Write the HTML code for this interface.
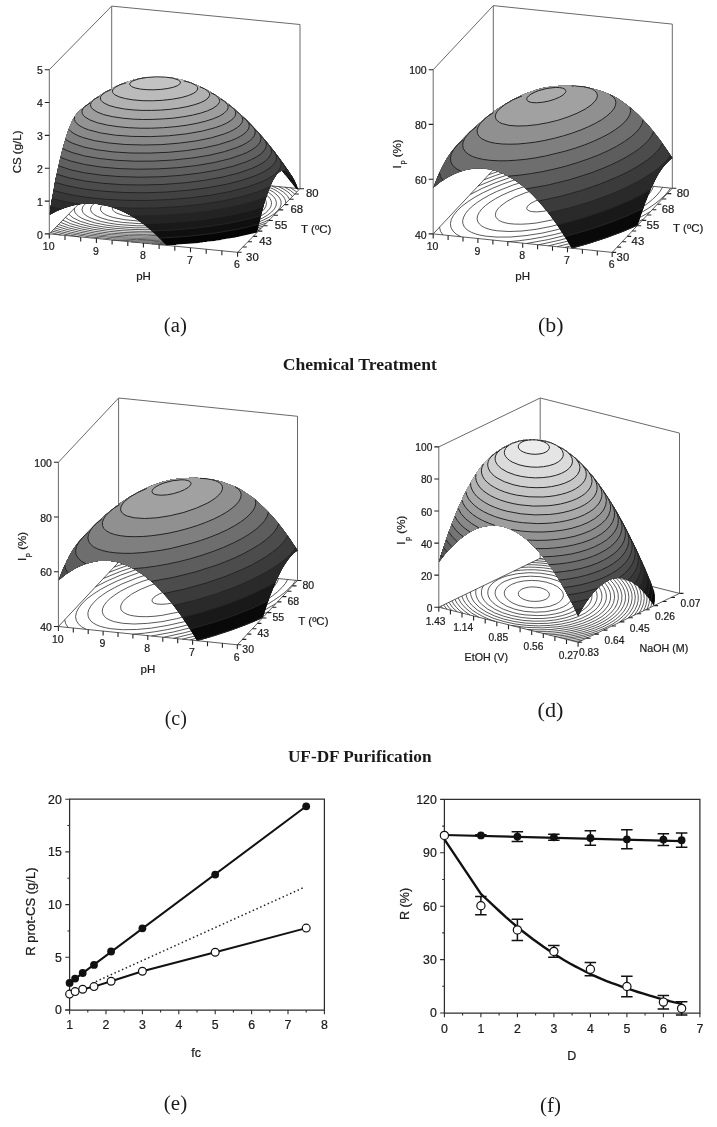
<!DOCTYPE html>
<html><head><meta charset="utf-8"><style>
html,body{margin:0;padding:0;background:#fff;}
body{width:717px;height:1127px;position:relative;overflow:hidden;}
text{stroke:#1a1a1a;stroke-width:0.22px;paint-order:stroke;}
text.cap{stroke:none;}
</style></head><body>
<svg width="717" height="1127" viewBox="0 0 717 1127" style="position:absolute;left:0;top:0" font-family="&quot;Liberation Sans&quot;, Arial, sans-serif" fill="#1a1a1a">
<path d="M49.3 69.7L111.7 6.1L300 24.5L300 188.7" fill="none" stroke="#6a6a6a" stroke-width="1"/>
<line x1="111.7" y1="6.1" x2="111.7" y2="170.3" stroke="#6a6a6a" stroke-width="1"/>
<line x1="49.3" y1="233.9" x2="111.7" y2="170.3" stroke="#333" stroke-width="0.8"/>
<line x1="111.7" y1="170.3" x2="300" y2="188.7" stroke="#333" stroke-width="0.8"/>
<path d="M159.5 244.7L186.9 242.9L213.3 239.9L237.7 235.7L248.8 233.2L259 230.5M296.8 192L290.6 187.8M122.9 171.4L109.2 172.8M151.7 243.9L166.9 243.3L182.3 242.2L197.2 240.8L211.4 239L225.2 236.8L238.1 234.3L250.1 231.5L261.1 228.4M294.7 194.1L290.5 190.6L284.8 187.2M128.7 172L108 174M49.4 233.8L49.9 234M142.5 243L159.6 242.6L176.8 241.6L193.4 240.1L209.4 238.1L224.6 235.7L238.8 232.9L251.8 229.6L263.4 226M292.4 196.5L290.1 193.9L287.1 191.4L283.2 188.9L278.6 186.6M134.9 172.6L106.8 175.3M131 241.9L150.2 241.8L169.5 241L188.5 239.5L206.9 237.3L224 234.6L240.1 231.2L254.1 227.4L266.2 223.1M50.7 232.5L61.4 235.1M289.5 199.4L287.4 195.8L283.7 192.3L278.5 189L271.8 185.9M141.7 173.2L123.3 174.6L105.5 176.7M112.9 240.1L135.2 240.8L158 240.4L180.7 239L202.7 236.7L223 233.4L241.7 229.3L257.4 224.6L264.1 222L270 219.3M52.1 231.1L64.8 234.2L79.5 236.9M285.8 203.2L285.5 200.8L284.6 198.4L282.9 196L280.5 193.7L277.4 191.4L273.7 189.2L264.2 185.2M149.3 174L126.2 175.5L104.1 178.1M53.5 229.6L61.4 231.8L70.1 233.7L90.1 236.9L112.6 238.9L136.7 239.6L161.7 239.1L186.1 237.3L209.5 234.4L230.7 230.4L240.2 228.1L249 225.6L256.9 222.8L263.7 219.9L269.6 216.9L274.1 213.9L277.6 210.7L280 207.5L281.1 204.3L281 201.1L279.6 198L277 195L273.3 192L268.4 189.3L262.4 186.7L255.4 184.3M158.1 174.8L143.9 175.4L129.8 176.4L115.9 177.8L102.6 179.6M55.1 228L62.5 230.2L71.2 232.3L80.5 234L90.8 235.5L113.2 237.6L137.2 238.4L162.2 237.9L186.7 236L209.6 233L230.6 228.9L239.8 226.6L248.4 223.9L255.8 221.1L262.3 218.2L267.6 215.1L271.6 212L274.4 208.9L276.1 205.7L276.4 202.5L275.5 199.3L273.3 196.3L269.9 193.3L265.3 190.5L259.4 187.9L252.5 185.5L244.7 183.3M168.9 175.9L151.4 176.3L134.1 177.3L117.4 178.9L101.1 181.1M56.8 226.3L67.1 229.5L79.5 232.2L93.6 234.4L109.3 236L125.9 236.9L142.9 237.1L160.6 236.7L177.9 235.6L194.8 233.8L210.9 231.4L225.4 228.5L238.5 225.2L249.7 221.4L258.8 217.3L265.6 212.9L268 210.7L269.8 208.4L270.9 206.4L271.4 204.5L271.5 202.6L271 200.6L270.1 198.7L268.6 196.8L264.3 193.2L258.1 189.9L250.1 186.9L240.4 184.1L229.3 181.8M184.3 177.4L162.8 177.2L140.9 178.1L119.4 180L99.4 182.8M58.6 224.5L68.6 227.9L81.3 230.8L95.6 233.1L111.5 234.7L128.6 235.6L146.3 235.8L164.5 235.2L182 233.8L199.2 231.8L214.9 229.1L229.3 225.9L241.7 222.1L251.9 218L259.4 213.6L262.2 211.3L264.3 209L265.7 206.6L266.3 204.4L266.3 202.5L265.8 200.6L264.8 198.8L263.3 197L258.8 193.5L252.5 190.2L244.5 187.3L234.7 184.7L223.7 182.5L211.3 180.8L197.8 179.5L183.7 178.7L169.1 178.5L154.4 178.7L139.5 179.5L124.9 180.8L110.7 182.5L97.6 184.7M60.6 222.4L69.6 225.9L81.1 228.9L94.6 231.3L109.7 233.1L125.9 234.1L143.2 234.4L160.9 234L178.2 232.8L194.9 230.9L210.5 228.4L224.8 225.2L236.9 221.6L246.9 217.6L254.3 213.3L257 211.1L259 208.9L260.3 206.7L260.9 204.4L260.9 202.6L260.3 200.7L259.3 198.9L257.7 197.1L253.2 193.8L246.8 190.6L238.8 187.8L229.1 185.4L218.1 183.3L205.9 181.7L192.5 180.6L178.7 180L164.3 179.9L149.8 180.3L135.3 181.2L121.3 182.6L107.9 184.5L95.6 186.7M62.8 220.1L70.7 223.7L81.1 226.8L93.4 229.3L107.7 231.2L123.4 232.5L139.8 232.9L156.9 232.7L173.8 231.7L190.1 230L205.4 227.6L219.3 224.7L231.4 221.2L241.4 217.3L248.8 213.1L251.5 211L253.4 208.8L254.7 206.6L255.2 204.5L255.1 202.7L254.6 200.9L253.5 199.2L251.9 197.4L247.3 194.1L241.1 191.2L233 188.5L223.3 186.2L212.4 184.3L200 182.8L186.9 181.8L173.2 181.4L159 181.4L145 182L131.2 183.1L117.7 184.6L105 186.6L93.4 189M65.4 217.4L68.4 219.4L71.8 221.1L80.7 224.3L91.9 227L105.3 229.2L120.1 230.6L135.9 231.3L152.1 231.3L168.8 230.5L184.8 229L199.9 226.8L213.7 224L225.6 220.8L235.4 217.1L242.8 213L245.4 210.9L247.4 208.8L248.6 206.7L249.2 204.6L249.1 202.8L248.5 201.1L247.4 199.4L245.7 197.7L240.9 194.5L234.4 191.6L226.3 189.1L216.6 186.9L205.6 185.2L193.4 183.9L180.4 183.2L166.9 182.9L153.2 183.2L139.4 183.9L126 185.2L113.3 187L101.5 189.1L90.7 191.7M68.8 214L70.7 216L73.2 217.9L80.3 221.3L89.9 224.3L101.9 226.7L115.6 228.4L130.5 229.4L146.1 229.7L162.2 229.2L178.1 228L193.1 226.1L207 223.5L219.1 220.4L228.9 216.8L236.4 212.9L239.1 210.8L241 208.8L242.2 206.7L242.7 204.6L242.6 202.9L241.9 201.2L240.7 199.5L239 197.9L234 194.8L227.4 192.1L219.1 189.7L209 187.7L197.7 186.2L185.3 185.1L172.4 184.6L159 184.6L145.3 185.2L132.2 186.3L119.3 187.9L107.4 189.9L96.7 192.3L87.3 195.1M74.6 208.1L74.4 210.2L74.9 212.2L76.3 214.2L78.5 216.2L81.4 218L85.1 219.7L94.7 222.8L106.4 225.2L120.3 226.9L135.6 227.8L151.7 227.8L168 227.1L183.6 225.5L198 223.2L210.7 220.2L221.1 216.8L229.1 213L231.9 210.9L234.1 208.8L235.3 206.7L235.8 204.6L235.5 202.9L234.7 201.2L233.3 199.5L231.4 197.9L225.7 194.9L218.2 192.2L208.8 190L197.8 188.3L185.5 187.1L172.3 186.4L158.9 186.4L145.3 187L131.7 188.2L119 189.9L107.3 192.1L97.1 194.7L88.4 197.7L81.5 201M118.2 224.5L136.2 225.8L155.6 225.8L175 224.4L192.9 221.9L200.9 220.2L208.1 218.2L214.5 216.1L219.6 213.8L223.6 211.4L226.3 209L227.8 206.4L228.1 203.9L227.4 202.2L226.2 200.6L224.4 199L221.9 197.4L215.3 194.6L206.6 192.2L196.1 190.3L184.2 189.1L171.4 188.4L158 188.4L144.7 189L131.4 190.3L119 192.1L108 194.4L98.5 197.2L91 200.3L85.5 203.7L83.8 205.4L82.6 207.1L82 209.9L83 212.6L85.4 215.1L89.5 217.5L94.9 219.7L101.6 221.6L109.4 223.2L118.2 224.5M122.6 222.4L138.6 223.6L155.8 223.6L172.9 222.4L188.5 220.1L201.9 216.9L207.5 215L212 213L215.5 210.9L218 208.7L219.4 206.4L219.5 204.2L219 202.8L217.9 201.3L213.9 198.5L208.1 196L200.5 193.9L191.4 192.3L180.8 191.2L169.4 190.6L157.6 190.6L145.7 191.1L133.9 192.3L123.1 193.9L113.3 195.9L105 198.4L98.4 201.1L93.7 204L92.1 205.6L91 207.1L90.5 209.5L91.4 212L93.7 214.3L97.2 216.3L101.9 218.2L107.8 219.9L114.7 221.3L122.6 222.4M124.5 219.7L138.1 221L152.7 221.2L167.7 220.3L181.8 218.5L193.9 215.7L198.9 214.1L202.8 212.4L206.1 210.5L208.3 208.6L209.5 206.7L209.7 204.8L209.3 203.6L208.4 202.3L205.2 199.9L200.3 197.8L193.9 196L186 194.6L177.3 193.7L167.8 193.1L157.9 193.1L147.4 193.6L137.6 194.5L128.5 195.8L120.1 197.5L112.9 199.6L107.3 201.9L103.2 204.4L100.9 206.9L100.4 208.9L100.9 210.8L102.5 212.7L105.1 214.5L108.8 216.1L113.3 217.5L124.5 219.7M133.2 217.2L143.8 218L155.1 218L166.2 217.3L176.9 215.8L186 213.6L192.7 211L195 209.6L196.7 208.2L197.5 206.7L197.6 205.2L196.5 203.3L194.1 201.5L190.2 199.8L185 198.4L178.9 197.3L172 196.6L156.6 196.2L141 197.3L133.8 198.4L127.4 199.8L121.8 201.4L117.5 203.2L114.5 205.1L112.8 207.2L112.4 208.8L113 210.3L114.4 211.8L116.7 213.1L123.8 215.6L133.2 217.2M140.5 212.9L146.8 213.5L153.9 213.6L160.9 213.3L167.4 212.4L173.1 211.1L177.3 209.5L179.8 207.8L180.3 206.9L180.4 206L179.8 204.9L178.3 203.8L173 202L165.4 200.9L156.4 200.6L147.1 201.2L139.1 202.6L133.1 204.6L131.1 205.8L130 207L129.7 207.9L129.9 208.7L131.7 210.4L135.4 211.9L140.5 212.9" fill="none" stroke="#222" stroke-width="0.75"/>
<path d="M151.6 76.9L164.4 76.9L164.6 77.1L167.4 77.1L167.6 77.4L169.4 77.4L169.6 77.6L171.4 77.6L171.6 77.9L175.6 78.4L184.9 80.6L195.4 84.4L204.4 88.6L214.6 94.4L221.4 98.9L229.1 104.6L238.6 112.6L246.6 120.1L254.9 128.6L264.6 139.6L272.4 149.1L280.4 159.6L289.6 172.6L294.1 179.6L296.9 185.4L298.6 190.1L295.9 188.4L287.1 176.9L281.6 170.6L279.4 171.9L276.6 174.6L272.9 180.4L268.1 191.4L264.9 201.1L262.6 209.9L262.1 210.9L257.1 232.4L246.1 235.1L241.4 235.9L237.6 236.9L236.4 236.9L235.4 237.4L231.4 237.9L228.6 238.6L226.9 238.6L225.6 239.1L221.4 239.6L221.1 239.9L216.1 240.4L214.6 240.9L206.9 241.6L206.6 241.9L202.9 242.1L202.6 242.4L200.6 242.4L198.4 242.9L191.4 243.4L191.1 243.6L176.4 244.6L176.1 244.9L172.4 244.9L172.1 245.1L167.9 245.1L167.6 245.4L166.9 245.1L166.4 245.4L156.6 235.4L151.4 230.6L144.1 224.6L137.9 220.1L129.9 215.1L122.1 211.1L114.1 207.9L108.4 206.1L100.1 204.4L96.4 204.1L96.1 203.9L93.4 203.9L93.1 203.6L85.4 203.6L85.1 203.9L82.1 203.9L81.9 204.1L78.4 204.4L78.1 204.6L74.1 205.1L64.4 207.9L56.9 210.9L49.4 214.9L50.6 206.1L51.1 204.6L51.6 200.4L54.6 185.4L54.6 184.1L56.1 176.6L56.6 175.4L57.1 171.9L57.6 170.6L57.9 168.4L58.9 164.9L58.9 163.9L62.4 149.6L62.9 148.6L63.1 146.9L65.4 139.9L65.4 139.1L66.4 136.6L66.4 135.9L68.6 129.4L72.4 120.6L76.1 114.4L81.1 109.4L94.6 98.9L105.1 92.1L116.6 86.1L125.1 82.6L132.9 80.1L141.6 78.1L146.4 77.6L146.6 77.4L148.6 77.4L148.9 77.1L151.4 77.1L151.6 76.9Z" fill="#050505" fill-rule="evenodd"/>
<path d="M151.6 76.9L164.4 76.9L164.6 77.1L167.4 77.1L167.6 77.4L174.4 78.1L183.1 80.1L190.9 82.6L198.9 85.9L207.4 90.1L214.6 94.4L221.4 98.9L230.4 105.6L238.6 112.6L249.1 122.6L257.6 131.6L264.6 139.6L275.1 152.6L283.1 163.4L292.6 177.1L294.1 179.6L296.9 185.6L290.6 181.4L287.1 176.9L281.6 170.6L279.4 171.9L276.6 174.6L272.9 180.4L268.1 191.4L263.6 205.4L258.9 224.1L242.4 228.3L242.1 228.2L235.6 229.7L220.6 232.4L210.4 233.9L183.1 236.9L182.9 236.7L172.1 237.6L159.9 238.2L159.4 238.1L151.4 230.6L144.1 224.6L134.9 218.1L129.9 215.1L118.1 209.4L111.9 207.1L103.1 204.9L98.6 204.4L98.4 204.1L96.4 204.1L96.1 203.9L93.4 203.9L93.1 203.6L85.4 203.6L85.1 203.9L82.1 203.9L81.9 204.1L80.1 204.1L79.9 204.4L75.4 204.9L69.1 206.4L60.4 209.4L56.9 210.9L49.4 214.9L50.6 206.1L51.1 204.6L51.6 200.4L54.6 185.4L54.6 184.1L56.1 176.6L56.6 175.4L57.1 171.9L57.6 170.6L57.9 168.4L58.9 164.9L58.9 163.9L62.4 149.6L62.9 148.6L63.1 146.9L65.4 139.9L65.4 139.1L66.4 136.6L66.4 135.9L68.6 129.4L72.4 120.6L76.1 114.4L81.1 109.4L94.6 98.9L105.1 92.1L116.6 86.1L125.1 82.6L132.9 80.1L141.6 78.1L146.4 77.6L146.6 77.4L148.6 77.4L148.9 77.1L151.4 77.1L151.6 76.9Z" fill="#0f0f0f" fill-rule="evenodd"/>
<path d="M151.6 76.9L164.4 76.9L164.6 77.1L167.4 77.1L167.6 77.4L169.4 77.4L169.6 77.6L171.4 77.6L171.6 77.9L175.6 78.4L184.9 80.6L195.4 84.4L207.4 90.1L214.6 94.4L223.1 100.1L230.4 105.6L241.6 115.4L249.1 122.6L259.9 134.1L268.4 144.1L280.4 159.6L289.6 172.6L292.6 177.1L294.7 181.1L290.1 177.4L284.9 174.4L281.6 170.6L280.1 171.4L276.6 174.6L275.1 176.6L272.9 180.4L270.6 185.1L268.1 191.4L264.9 201.1L261.1 215.3L257.4 216.6L241.6 220.6L230.9 222.9L210.1 226.3L197.4 227.9L177.9 229.7L151.9 231L144.1 224.6L137.9 220.1L129.9 215.1L122.1 211.1L114.1 207.9L108.4 206.1L100.1 204.4L96.4 204.1L96.1 203.9L93.4 203.9L93.1 203.6L82.1 203.9L81.9 204.1L80.1 204.1L79.9 204.4L75.4 204.9L69.1 206.4L64.4 207.9L56.9 210.9L49.4 214.9L50.6 206.1L51.1 204.6L51.6 200.4L54.6 185.4L54.6 184.1L56.1 176.6L56.6 175.4L57.1 171.9L57.6 170.6L57.9 168.4L58.9 164.9L58.9 163.9L62.4 149.6L62.9 148.6L63.1 146.9L65.4 139.9L65.4 139.1L66.4 136.6L66.4 135.9L68.6 129.4L72.4 120.6L76.1 114.4L81.1 109.4L94.6 98.9L105.1 92.1L116.6 86.1L125.1 82.6L132.9 80.1L141.6 78.1L146.4 77.6L146.6 77.4L148.6 77.4L148.9 77.1L151.4 77.1L151.6 76.9Z" fill="#191919" fill-rule="evenodd"/>
<path d="M151.6 76.9L164.4 76.9L164.6 77.1L167.4 77.1L167.6 77.4L169.4 77.4L169.6 77.6L171.4 77.6L171.6 77.9L175.6 78.4L184.9 80.6L195.4 84.4L204.4 88.6L214.6 94.4L221.4 98.9L229.1 104.6L238.6 112.6L247.6 121.1L257.6 131.6L267.1 142.6L275.1 152.6L284.4 165.1L292.4 177.1L289.6 174.1L285 170.6L282.4 170.6L282.1 170.8L281.6 170.6L279.4 171.9L276.6 174.6L272.9 180.4L269.9 186.9L264.9 201.1L263.4 206.6L250.4 210.6L240 213.1L230.6 215.2L212.1 218.4L198.4 220.2L180.1 221.9L165.9 222.9L161.1 222.9L160.4 223.1L142.6 223.5L134.9 218.1L129.9 215.1L118.1 209.4L111.9 207.1L105.4 205.4L100.1 204.4L98.6 204.4L98.4 204.1L93.4 203.9L93.1 203.6L82.1 203.9L81.9 204.1L80.1 204.1L79.9 204.4L74.1 205.1L64.4 207.9L56.9 210.9L50.1 214.4L49.4 214.3L51.6 200.4L52.1 198.9L52.1 197.6L52.6 196.1L52.6 194.9L53.1 193.4L53.1 192.1L53.6 190.6L53.6 189.4L54.6 185.4L54.6 184.1L56.1 176.6L56.6 175.4L58.9 163.9L62.4 149.6L62.9 148.6L63.1 146.9L65.4 139.9L65.4 139.1L66.4 136.6L66.4 135.9L68.6 129.4L72.4 120.6L76.1 114.4L81.1 109.4L94.6 98.9L105.1 92.1L116.6 86.1L125.1 82.6L132.9 80.1L141.6 78.1L146.4 77.6L146.6 77.4L148.6 77.4L148.9 77.1L151.4 77.1L151.6 76.9Z" fill="#232323" fill-rule="evenodd"/>
<path d="M151.6 76.9L164.4 76.9L164.6 77.1L167.4 77.1L167.6 77.4L169.4 77.4L169.6 77.6L171.4 77.6L171.6 77.9L175.6 78.4L184.9 80.6L195.4 84.4L204.4 88.6L214.6 94.4L221.4 98.9L229.1 104.6L238.6 112.6L247.6 121.1L257.6 131.6L267.1 142.6L275.1 152.6L287.9 170.1L289.6 173.4L287.6 171.7L285.9 170.8L282.4 170.5L282.1 170.8L281.6 170.6L279.4 171.9L276.6 174.6L274.6 177.4L271.6 182.9L268.1 191.4L266.4 197.1L255.1 201.1L242.9 204.6L233 206.9L220.1 209.3L206.9 211.4L193.1 213.1L188.4 213.4L187.9 213.6L170.9 215L151.9 215.8L132.9 215.9L130.9 215.9L127.6 213.9L122.1 211.1L114.1 207.9L105.4 205.4L100.1 204.4L98.6 204.4L98.4 204.1L93.4 203.9L93.1 203.6L85.4 203.6L85.1 203.9L80.1 204.1L79.9 204.4L74.1 205.1L69.1 206.4L64.4 207.9L61.6 209.1L50.6 206.4L56.1 176.6L56.6 175.4L57.1 171.9L59.9 160.6L59.9 159.6L63.1 146.9L66.4 136.6L66.4 135.9L69.1 128.1L72.6 120.1L76.1 114.4L81.1 109.4L94.6 98.9L105.1 92.1L116.6 86.1L125.1 82.6L132.9 80.1L141.6 78.1L146.4 77.6L146.6 77.4L148.6 77.4L148.9 77.1L151.4 77.1L151.6 76.9Z" fill="#2d2d2d" fill-rule="evenodd"/>
<path d="M151.6 76.9L164.4 76.9L164.6 77.1L167.4 77.1L167.6 77.4L169.4 77.4L169.6 77.6L171.4 77.6L171.6 77.9L175.6 78.4L184.9 80.6L195.4 84.4L204.4 88.6L214.6 94.4L221.4 98.9L229.1 104.6L238.6 112.6L249.1 122.6L259.9 134.1L272.4 149.1L283.1 163.4L285.1 166.7L285.7 168.6L285.9 170.6L282.4 170.4L279.4 171.9L276.6 174.6L274.6 177.4L271.6 182.9L270.1 186.6L264.9 189.2L252.1 193.9L236.7 198.1L213.9 202.6L199.1 204.7L180.6 206.6L180.4 206.4L173.4 207.1L158.9 207.9L136.6 208.3L116.6 207.8L112.9 207.6L105.4 205.4L100.1 204.4L98.6 204.4L98.4 204.1L96.4 204.1L96.1 203.9L85.4 203.6L85.1 203.9L82.1 203.9L81.9 204.1L79.4 204.4L63.1 201.4L52.1 198.6L53.1 192.1L53.6 190.6L53.6 189.4L57.1 171.9L57.6 170.6L57.9 168.4L62.4 149.6L62.9 148.6L64.6 141.6L67.6 132.1L70.9 123.9L73.9 117.9L77.1 113.1L84.1 106.9L94.6 98.9L105.1 92.1L116.6 86.1L125.1 82.6L132.9 80.1L141.6 78.1L146.4 77.6L146.6 77.4L148.6 77.4L148.9 77.1L151.4 77.1L151.6 76.9Z" fill="#383838" fill-rule="evenodd"/>
<path d="M151.6 76.9L164.4 76.9L164.6 77.1L167.4 77.1L167.6 77.4L169.4 77.4L169.6 77.6L171.4 77.6L171.6 77.9L175.6 78.4L184.9 80.6L195.4 84.4L207.4 90.1L214.6 94.4L223.1 100.1L234.9 109.4L246.6 120.1L259.9 134.1L272.4 149.1L279.6 158.6L280.8 160.9L281.3 163.4L281.1 165.9L280.2 168.1L278.9 170.3L275.6 173.7L272.4 176.2L264.6 180.5L260.1 182.6L253.4 185.2L241.4 188.9L227.6 192.2L210.9 195.2L196.6 197.2L183.9 198.4L183.4 198.6L167.9 199.8L155.6 200.2L155.1 200.4L131.9 200.6L109.4 199.6L94.9 198.4L80.9 196.6L63.9 193.4L53.6 190.5L54.6 184.1L56.1 176.6L56.6 175.4L57.1 171.9L57.6 170.6L57.9 168.4L58.9 164.9L58.9 163.9L62.4 149.6L62.9 148.6L63.1 146.9L65.4 139.9L65.4 139.1L67.6 132.1L70.9 123.9L73.9 117.9L77.1 113.1L84.1 106.9L94.6 98.9L105.1 92.1L116.6 86.1L125.1 82.6L132.9 80.1L141.6 78.1L146.4 77.6L146.6 77.4L148.6 77.4L148.9 77.1L151.4 77.1L151.6 76.9Z" fill="#424242" fill-rule="evenodd"/>
<path d="M151.6 76.9L164.4 76.9L164.6 77.1L167.4 77.1L167.6 77.4L169.4 77.4L169.6 77.6L171.4 77.6L171.6 77.9L175.6 78.4L184.9 80.6L195.4 84.4L204.4 88.6L214.6 94.4L221.4 98.9L229.1 104.6L234.9 109.4L246.6 120.1L257.6 131.6L268.4 144.1L274.9 152.4L276.1 154.9L276.5 156.9L276.4 159.1L275.9 160.9L274.4 163.5L272.6 165.6L270.1 167.8L262.9 172.4L255.4 175.9L243.1 180.1L227.1 184.2L209.4 187.6L201.1 188.6L199.4 189.1L177.4 191.4L157.6 192.6L138.9 192.8L122.4 192.5L106.1 191.6L89.7 189.9L78.1 188.1L63.4 184.9L55.1 182.4L57.9 168.4L59.9 160.6L59.9 159.6L63.1 146.9L66.4 136.6L66.4 135.9L68.6 129.4L72.1 121.1L74.6 116.6L77.1 113.1L84.1 106.9L94.6 98.9L105.1 92.1L116.6 86.1L125.1 82.6L132.9 80.1L141.6 78.1L146.4 77.6L146.6 77.4L148.6 77.4L148.9 77.1L151.4 77.1L151.6 76.9Z" fill="#4c4c4c" fill-rule="evenodd"/>
<path d="M151.6 76.9L164.4 76.9L164.6 77.1L167.4 77.1L167.6 77.4L169.4 77.4L169.6 77.6L171.4 77.6L171.6 77.9L175.6 78.4L184.9 80.6L195.4 84.4L204.4 88.6L214.6 94.4L221.4 98.9L229.1 104.6L234.9 109.4L246.6 120.1L257.6 131.6L268.4 144.1L270.6 147.3L271.6 150.4L271.5 152.1L271.1 154.1L269.6 156.9L267.6 159.1L265.4 161.1L257.9 165.7L251.6 168.6L239.4 172.9L230.4 175.4L222.7 177.1L206.1 180.2L189.4 182.4L176.6 183.7L157.6 184.8L140.9 185L126.9 184.9L111.6 184.1L96.4 182.7L82.1 180.6L67.9 177.6L56.9 174.2L57.1 171.9L59.9 160.6L59.9 159.6L63.1 146.9L66.4 136.6L66.4 135.9L68.6 129.4L72.1 121.1L74.6 116.6L77.1 113.1L84.1 106.9L94.6 98.9L105.1 92.1L116.6 86.1L125.1 82.6L132.9 80.1L141.6 78.1L146.4 77.6L146.6 77.4L148.6 77.4L148.9 77.1L151.4 77.1L151.6 76.9Z" fill="#565656" fill-rule="evenodd"/>
<path d="M151.6 76.9L164.4 76.9L164.6 77.1L167.4 77.1L167.6 77.4L174.4 78.1L183.1 80.1L190.9 82.6L198.9 85.9L207.4 90.1L214.6 94.4L225.1 101.6L236.6 110.9L246.6 120.1L257.6 131.6L264.4 139.4L265.9 141.9L266.4 143.6L266.4 145.6L265.9 147.6L264.9 149.6L261.4 153.6L254.9 157.9L246.4 161.9L233.9 166.1L225.4 168.4L224.9 168.3L218.1 170L206.4 172.2L192.9 174.1L177.6 175.7L160.4 176.8L144.1 177.1L122.9 176.8L107.9 175.9L89.6 173.7L79.9 172L67.6 169L58.6 165.8L59.9 159.6L63.1 146.9L68.6 129.4L72.1 121.1L73.9 117.9L76.1 114.4L79.4 110.9L87.9 103.9L100.6 94.9L109.1 89.9L116.6 86.1L125.1 82.6L132.9 80.1L141.6 78.1L146.4 77.6L146.6 77.4L148.6 77.4L148.9 77.1L151.4 77.1L151.6 76.9Z" fill="#606060" fill-rule="evenodd"/>
<path d="M151.6 76.9L164.4 76.9L164.6 77.1L167.4 77.1L167.6 77.4L174.4 78.1L183.1 80.1L190.9 82.6L198.9 85.9L207.4 90.1L214.6 94.4L223.1 100.1L234.9 109.4L246.6 120.1L254.9 128.6L259.3 133.6L260.6 136L261 137.6L261 139.4L259.7 142.9L258.6 144.4L255.8 147.1L249.6 151.1L239.6 155.6L229.6 158.9L215.4 162.4L203.1 164.6L187.1 166.8L173.4 168.1L162.9 168.8L135.1 169.2L119.1 168.6L106.1 167.6L92.6 165.9L80.6 163.7L69.9 160.9L63.6 158.7L60.6 157.2L62.4 149.6L62.9 148.6L63.1 146.9L65.4 139.9L65.4 139.1L67.6 132.1L70.1 125.6L72.4 120.6L74.6 116.6L77.1 113.1L79.4 110.9L87.9 103.9L100.6 94.9L109.1 89.9L116.6 86.1L125.1 82.6L132.9 80.1L141.6 78.1L146.4 77.6L146.6 77.4L148.6 77.4L148.9 77.1L151.4 77.1L151.6 76.9Z" fill="#6a6a6a" fill-rule="evenodd"/>
<path d="M151.6 76.9L164.4 76.9L164.6 77.1L167.4 77.1L167.6 77.4L174.4 78.1L180.1 79.4L184.9 80.6L195.4 84.4L209.6 91.4L221.4 98.9L229.1 104.6L238.6 112.6L249.1 122.6L253.6 127.4L254.9 129.6L255.3 131.4L255.3 133.1L254 136.4L252.4 138.5L249.9 140.7L244.4 144.2L236.4 147.9L223.2 152.1L212.4 154.7L200.6 156.9L183.6 159.2L169.4 160.4L151.4 161.1L134.4 161.2L120.6 160.6L107.9 159.6L92.1 157.5L82.1 155.4L71.5 152.4L62.9 148.5L64.6 141.6L67.6 132.1L72.6 120.1L74.6 116.6L77.1 113.1L84.1 106.9L92.9 100.1L100.6 94.9L109.1 89.9L118.9 85.1L125.1 82.6L132.9 80.1L141.6 78.1L146.4 77.6L146.6 77.4L148.6 77.4L148.9 77.1L151.4 77.1L151.6 76.9Z" fill="#747474" fill-rule="evenodd"/>
<path d="M151.6 76.9L164.4 76.9L164.6 77.1L167.4 77.1L167.6 77.4L171.4 77.6L171.6 77.9L178.1 78.9L184.9 80.6L192.9 83.4L198.9 85.9L207.4 90.1L214.6 94.4L219.9 97.9L229.1 104.6L238.6 112.6L246.6 120.1L248.5 122.6L249.2 124.6L249.2 126.9L248.3 129.4L245.1 133.1L239.6 136.9L231.6 140.5L222.6 143.6L205.6 147.7L197.1 149.2L184.4 150.9L169.1 152.3L150.1 153.1L135.4 153.1L119.9 152.4L104.1 150.8L93.6 149.2L80.9 146.2L75.3 144.4L70.6 142.4L65.4 139.2L67.6 132.1L70.9 123.9L72.6 120.1L76.1 114.4L81.1 109.4L92.9 100.1L100.6 94.9L109.1 89.9L116.6 86.1L123.1 83.4L130.4 80.9L136.9 79.1L143.1 77.9L148.6 77.4L148.9 77.1L151.4 77.1L151.6 76.9Z" fill="#7e7e7e" fill-rule="evenodd"/>
<path d="M151.6 76.9L164.4 76.9L164.6 77.1L167.4 77.1L167.6 77.4L171.4 77.6L171.6 77.9L178.1 78.9L184.9 80.6L192.9 83.4L198.9 85.9L207.4 90.1L214.6 94.4L223.1 100.1L230.4 105.6L238.6 112.6L241.5 115.6L242.6 117.6L242.8 120.6L242 122.6L240.6 124.6L238.4 126.7L234.9 129.2L231.6 130.9L221.6 134.9L212.2 137.6L203.4 139.6L187.9 142.2L174.6 143.7L158.1 144.7L144.6 145L128.1 144.6L114.9 143.7L99.1 141.5L86.4 138.6L79.1 136.2L72.9 133L70.2 130.9L68.8 129.4L70.1 125.6L72.6 120.1L74.6 116.6L77.1 113.1L79.4 110.9L87.9 103.9L100.6 94.9L106.9 91.1L113.1 87.9L118.9 85.1L125.1 82.6L132.9 80.1L139.1 78.6L143.1 77.9L144.6 77.9L144.9 77.6L146.4 77.6L146.6 77.4L151.4 77.1L151.6 76.9Z" fill="#898989" fill-rule="evenodd"/>
<path d="M151.6 76.9L164.4 76.9L164.6 77.1L167.4 77.1L167.6 77.4L174.4 78.1L184.9 80.6L190.9 82.6L198.9 85.9L207.4 90.1L214.6 94.4L221.4 98.9L230.4 105.6L233.3 108.1L235.1 110.4L235.9 112.9L235.4 115.4L234.3 117.4L232.4 119.4L229.4 121.6L226.6 123.2L219.9 126.1L208.9 129.6L196.1 132.4L183.1 134.4L168.4 135.7L157.1 136.4L142.4 136.7L131.1 136.4L115.4 135.2L103.1 133.4L92.1 130.9L84.9 128.4L81.1 126.6L78.4 124.9L76.1 122.9L75.1 121.4L74.3 119.1L74.4 117.1L76.1 114.4L79.4 110.9L92.9 100.1L105.1 92.1L116.6 86.1L123.1 83.4L130.4 80.9L141.6 78.1L146.4 77.6L146.6 77.4L148.6 77.4L148.9 77.1L151.4 77.1L151.6 76.9Z" fill="#939393" fill-rule="evenodd"/>
<path d="M151.6 76.9L164.4 76.9L164.6 77.1L167.4 77.1L167.6 77.4L174.4 78.1L184.9 80.6L195.4 84.4L209.6 91.4L214.6 94.4L225.1 101.6L226.9 103.4L227.9 105.1L228.2 107.4L227.9 108.9L226.7 110.9L225.1 112.5L220.6 115.6L216.4 117.6L206.2 121.1L195.4 123.7L182.4 125.9L171.1 127L158.1 127.9L144.4 128.2L128.4 127.6L115.6 126.4L107.9 125.2L97.6 122.8L90.4 120.2L87.3 118.6L84.9 116.9L82.5 114.1L81.9 111.9L82 110.4L83 108.4L85.4 105.9L94.6 98.9L102.6 93.6L109.1 89.9L120.6 84.4L130.4 80.9L141.6 78.1L146.4 77.6L146.6 77.4L148.6 77.4L148.9 77.1L151.4 77.1L151.6 76.9Z" fill="#9d9d9d" fill-rule="evenodd"/>
<path d="M151.6 76.9L164.4 76.9L164.6 77.1L167.4 77.1L167.6 77.4L171.4 77.6L183.1 80.1L190.9 82.6L198.9 85.9L207.4 90.1L216.1 95.4L218.2 97.1L219.2 98.6L219.7 100.4L219.5 102.1L218.7 103.6L217.4 105.2L213.1 108.2L207.1 111L197.8 113.9L189.4 115.7L178.1 117.5L166.1 118.7L153.6 119.4L142.6 119.4L130.4 118.9L121.9 118.1L111.9 116.5L104.1 114.7L97.9 112.4L93.9 110.1L92.1 108.7L91 107.1L90.4 104.9L90.8 103.1L91.9 101.4L93.6 99.6L105.1 92.1L116.6 86.1L125.1 82.6L132.9 80.1L141.6 78.1L146.4 77.6L146.6 77.4L148.6 77.4L148.9 77.1L151.4 77.1L151.6 76.9Z" fill="#a7a7a7" fill-rule="evenodd"/>
<path d="M151.6 76.9L164.4 76.9L164.6 77.1L167.4 77.1L167.6 77.4L169.4 77.4L169.6 77.6L171.4 77.6L171.6 77.9L175.6 78.4L184.9 80.6L195.4 84.4L206.3 89.6L208.2 91.1L209.4 92.6L209.9 94.4L209.7 95.6L208 98.1L204.2 100.9L199.4 103.1L193.9 104.9L185.9 106.8L178.6 108.1L168.4 109.4L156.9 110.2L148.9 110.4L138.1 110.1L128.9 109.4L119.9 108.2L112.1 106.4L107.1 104.6L102.6 102L100.6 99.7L100.3 98.1L100.6 96.6L102.4 94.1L106.9 91.1L116.6 86.1L125.1 82.6L132.9 80.1L141.6 78.1L146.4 77.6L146.6 77.4L148.6 77.4L148.9 77.1L151.4 77.1L151.6 76.9Z" fill="#b1b1b1" fill-rule="evenodd"/>
<path d="M151.6 76.9L164.4 76.9L164.6 77.1L167.4 77.1L167.6 77.4L174.4 78.1L183.1 80.1L190.9 82.6L194.9 84.5L196.4 85.6L197.4 86.9L197.8 88.1L197.6 89.3L195.6 91.9L193.7 93.1L190.6 94.6L184.9 96.6L179.4 97.9L171.4 99.3L155.9 100.6L141.4 100.5L128.1 99.1L121.6 97.6L116.8 95.9L113.9 94L112.6 92.4L112.4 91.4L112.5 90.1L113.1 89L114.5 87.6L116.8 86.1L123.1 83.4L130.4 80.9L136.9 79.1L143.1 77.9L148.6 77.4L148.9 77.1L151.4 77.1L151.6 76.9Z" fill="#bbbbbb" fill-rule="evenodd"/>
<path d="M151.6 76.9L164.4 76.9L164.6 77.1L167.3 77.1L167.6 77.4L172.2 77.9L176.1 78.9L178.6 80L180 81.1L180.5 82.6L179.8 83.9L178.3 85.1L173.1 87.2L164.9 88.9L156.6 89.6L146.9 89.6L139.1 88.8L135.1 87.9L132.4 86.9L130.4 85.6L129.7 84.6L129.8 83.4L130.7 82.1L132.2 81.1L135 79.9L141.7 78.1L146.4 77.6L146.6 77.4L148.6 77.4L148.9 77.1L151.4 77.1L151.6 76.9Z" fill="#c3c3c3" fill-rule="evenodd"/>
<path d="M159.5 238.2L187 236.4L213.3 233.4L237.7 229.2L248.8 226.7L259 224M296.8 185.5L290.6 181.3M151.7 230.9L166.8 230.3L182.1 229.3L196.8 227.9L211.5 226L225 223.9L238 221.4L249.9 218.6L261.1 215.4M294.7 181.1L290.6 177.6L284.8 174.2M49.4 214.3L49.9 214.4M142.5 223.5L159.6 223.1L176.6 222.1L193 220.6L209.3 218.7L224.6 216.2L238.8 213.3L251.8 210.1L263.4 206.5M292.4 177L289 173.4L284.2 170M131 215.9L150.1 215.8L169.6 214.9L188.7 213.4L206.9 211.3L224 208.5L240.1 205.1L254.2 201.3L266.2 197.1M50.7 206.4L61.4 209.1M289.5 173.3L288.1 170.7L285.9 168.2M112.9 207.6L135.1 208.2L157.7 207.9L180.6 206.5L202.8 204.1L223.6 200.8L241.8 196.7L257.4 192L264.3 189.3L270 186.7M52.1 198.5L64.8 201.7L79.5 204.3M285.8 170.7L285.5 168.3L284.6 165.9L283 163.6L280.6 161.2M53.5 190.5L68 194.2L85.1 197.2L104.5 199.2L125.1 200.3L146.5 200.5L168.7 199.6L190.1 197.9L210.7 195.2L229.6 191.6L246 187.4L259.7 182.6L265.5 180L270.3 177.4L274.4 174.6L277.5 171.8L279.7 169L280.9 166.2L281.2 163.4L280.5 160.7L279 158L276.3 155.2M55.1 182.4L68.6 186.1L85 189.2L103.9 191.3L124 192.5L145 192.8L166.8 192L187.8 190.3L208.1 187.7L226.7 184.2L242.7 180.1L256.1 175.4L261.6 172.9L266.4 170.3L270.2 167.6L273.2 164.8L275.2 162.1L276.3 159.3L276.4 156.5L275.6 153.9L273.8 151.2L271.1 148.6M56.8 174.2L69.8 178.1L85.3 181.1L102.9 183.3L122.6 184.7L143.2 185L164.2 184.4L184.9 182.8L204.5 180.3L222.9 177L238.7 173L251.8 168.4L257.3 165.9L261.9 163.4L265.7 160.7L268.5 158L270.4 155.3L271.4 152.7L271.4 150L270.5 147.4L268.7 144.8L265.9 142.2M58.6 165.8L70.2 169.7L84.5 172.8L101.5 175.2L120.2 176.6L140 177.2L159.8 176.8L180.2 175.4L199.5 173.1L217.4 170L232.8 166.3L246 161.9L251.4 159.6L256.2 157.1L260 154.6L263 151.9L265 149.3L266.1 146.7L266.3 144L265.6 141.5L264 139.1L261.4 136.6M60.6 157.3L65.7 159.4L71.2 161.2L84.8 164.5L100.7 167L119 168.6L138.2 169.2L158.1 168.9L177.7 167.7L196.7 165.5L214.2 162.5L229.6 158.8L242.4 154.4L247.7 152.1L252.1 149.6L255.7 147.1L258.4 144.6L260.1 142L260.9 139.4L260.8 136.9L259.7 134.4L257.8 132L254.8 129.6M62.8 148.5L66.9 150.5L72 152.5L84.3 155.9L99.1 158.5L116.3 160.3L135 161.2L154.1 161.1L173.4 160L192.1 158L209.1 155.3L224.3 151.7L236.9 147.5L242.1 145.3L246.6 142.9L250.1 140.5L252.8 137.9L254.4 135.5L255.2 133L255 130.4L253.9 128.1L251.9 125.7L248.9 123.4M65.4 139.3L68.9 141.5L72.9 143.4L83.6 147L97.1 149.8L113.2 151.9L130.6 153L149.2 153.1L168.2 152.3L186.3 150.6L203.5 148L218.6 144.6L231.2 140.6L236.2 138.5L240.6 136.2L244 133.9L246.6 131.5L248.4 129.1L249.2 126.7L249 124.3L247.9 122L245.9 119.7L242.9 117.4M68.8 129.3L71 131.5L74.1 133.7L77.9 135.6L82.8 137.5L94.3 140.6L109 143L125.3 144.5L143.4 145L161.6 144.6L179.5 143.1L196.2 140.9L211.4 137.8L224.1 134L229.3 131.9L233.8 129.7L237.4 127.4L240.1 125.1L241.9 122.7L242.7 120.4L242.5 118L241.4 115.8L239.4 113.5L236.4 111.4M236 111.2L235.6 110.9M74.6 116.9L74.4 119.3L75.2 121.5L77.1 123.8L79.9 125.9L83.7 127.9L88.5 129.8L100.4 132.9L115.4 135.2L132.2 136.4L150.4 136.6L168.6 135.8L186.2 133.9L202.2 131.1L215.8 127.5L221.3 125.5L226.1 123.4L230 121.1L232.9 118.8L234.8 116.5L235.7 114.1L235.5 111.7L234.4 109.5L232.1 107.3L228.9 105.2M228.5 105L228.1 104.7M82.1 109.5L81.7 109.7M118.2 126.7L128.8 127.7L140.1 128.2L151.6 128.2L163.5 127.7L175.1 126.7L186 125.3L196 123.5L205.2 121.3L213.1 118.8L219.3 116.2L224 113.3L227 110.3L227.8 108.7L228.1 107.3L228 105.8L227.4 104.4L224.7 101.5L220.4 98.9M90.1 103L84.9 106.5L83.3 108.2L82.3 110L82 111.7L82.3 113.5L83.2 115.2L84.9 116.9L90 120L97.3 122.7L106.8 125L118.2 126.7M122.6 118.2L132.4 119.1L142.6 119.5L152.9 119.4L163.6 118.9L173.7 118.1L183.8 116.7L192.6 115.1L200.7 113.1L207.5 110.8L213 108.3L216.9 105.6L219.1 102.9L219.5 101.4L219.6 100.1L218.3 97.5L215.3 95L210.7 92.7M99.4 96.4L94 99.5L92.2 101.2L91.1 102.7L90.6 104.5L90.7 106L91.4 107.6L92.6 109.1L97.1 112L103.7 114.6L112.2 116.6L122.6 118.2M124.5 109L133.1 109.9L142.1 110.4L151.6 110.4L160.7 110.1L170.1 109.3L178.7 108.2L186.8 106.7L194.2 104.8L200.2 102.8L205 100.5L208 98.1L209.6 95.6L209.5 93.3L207.8 91L204.5 88.8L199.8 86.8M111.4 89.4L105.7 92L101.9 94.8L100.9 96.2L100.4 97.7L100.5 99.1L101.1 100.4L102.4 101.8L104.2 103.1L109.1 105.5L115.9 107.4L124.5 109M133.2 99.9L142.8 100.7L152.7 100.8L162.5 100.3L172.4 99.2L181.2 97.6L188.6 95.5L193.9 93.1L195.8 91.7L197 90.5L197.6 89L197.6 87.7L196.9 86.4L195.5 85L190.6 82.7L183.6 80.8M126.9 82.6L126.6 82.7M126 82.8L119.7 84.9L115.2 87.3L113.7 88.6L112.8 89.9L112.4 91.2L112.7 92.4L113.4 93.5L114.8 94.8L119.2 96.9L125.5 98.6L133.2 99.9M140.5 89.1L146.9 89.7L153.7 89.8L160.8 89.4L167.1 88.6L172.9 87.4L177.2 85.8L179.7 84.1L180.3 83.2L180.4 82.2L179.8 81.1L178.3 80L172.9 78.1L165.3 77.1L156.3 76.8L147.3 77.4L139 78.8L133 80.8L131.1 82L130 83.2L129.7 84L129.9 84.9L131.7 86.6L135.2 88L140.5 89.1" fill="none" stroke="#242424" stroke-width="1"/>
<line x1="49.3" y1="233.9" x2="237.6" y2="252.3" stroke="#333" stroke-width="0.8"/>
<line x1="237.6" y1="252.3" x2="300" y2="188.7" stroke="#333" stroke-width="0.8"/>
<line x1="49.3" y1="233.9" x2="49.3" y2="69.7" stroke="#6a6a6a" stroke-width="1"/>
<path d="M49.3 233.9h-4.5M49.3 201.1h-4.5M49.3 168.2h-4.5M49.3 135.4h-4.5M49.3 102.5h-4.5M49.3 69.7h-4.5M49.3 233.9v4.5M65 235.4v4.5M80.7 237v4.5M96.4 238.5v4.5M112.1 240v4.5M127.8 241.6v4.5M143.4 243.1v4.5M159.1 244.6v4.5M174.8 246.2v4.5M190.5 247.7v4.5M206.2 249.2v4.5M221.9 250.8v4.5M237.6 252.3v4.5M237.6 252.3h4M242.8 247h4M248 241.7h4M253.2 236.4h4M258.4 231.1h4M263.6 225.8h4M268.8 220.5h4M274 215.2h4M279.2 209.9h4M284.4 204.6h4M289.6 199.3h4M294.8 194h4M300 188.7h4" stroke="#222" stroke-width="1.1" fill="none"/>
<text x="42.8" y="238.5" font-size="10.5" text-anchor="end">0</text>
<text x="42.8" y="205.6" font-size="10.5" text-anchor="end">1</text>
<text x="42.8" y="172.8" font-size="10.5" text-anchor="end">2</text>
<text x="42.8" y="140" font-size="10.5" text-anchor="end">3</text>
<text x="42.8" y="107.1" font-size="10.5" text-anchor="end">4</text>
<text x="42.8" y="74.3" font-size="10.5" text-anchor="end">5</text>
<text x="48.7" y="249.9" font-size="10.5" text-anchor="middle">10</text>
<text x="95.8" y="254.5" font-size="10.5" text-anchor="middle">9</text>
<text x="142.8" y="259.1" font-size="10.5" text-anchor="middle">8</text>
<text x="189.9" y="263.7" font-size="10.5" text-anchor="middle">7</text>
<text x="237" y="268.3" font-size="10.5" text-anchor="middle">6</text>
<text x="246.1" y="260.8" font-size="10.5" text-anchor="start" textLength="12.6" lengthAdjust="spacingAndGlyphs">30</text>
<text x="259.2" y="244.9" font-size="10.5" text-anchor="start" textLength="12.6" lengthAdjust="spacingAndGlyphs">43</text>
<text x="274.8" y="229" font-size="10.5" text-anchor="start" textLength="12.6" lengthAdjust="spacingAndGlyphs">55</text>
<text x="290.4" y="213.1" font-size="10.5" text-anchor="start" textLength="12.6" lengthAdjust="spacingAndGlyphs">68</text>
<text x="306" y="197.2" font-size="10.5" text-anchor="start" textLength="12.6" lengthAdjust="spacingAndGlyphs">80</text>
<text x="143.5" y="279.5" font-size="11.5" text-anchor="middle">pH</text>
<text x="301.1" y="232.9" font-size="11.5" text-anchor="start">T (ºC)</text>
<text transform="translate(21.4 151.9) rotate(-90)" font-size="11.5" text-anchor="middle">CS (g/L)</text>
<path d="M433.2 69.7L493.3 5.6L672.3 24.1L672.3 188.3" fill="none" stroke="#6a6a6a" stroke-width="1"/>
<line x1="493.3" y1="5.6" x2="493.3" y2="169.8" stroke="#6a6a6a" stroke-width="1"/>
<line x1="433.2" y1="233.9" x2="493.3" y2="169.8" stroke="#333" stroke-width="0.8"/>
<line x1="493.3" y1="169.8" x2="672.3" y2="188.3" stroke="#333" stroke-width="0.8"/>
<path d="M571.8 248.2L589.3 243.2L606.3 237.7L622.5 231.6L637.7 225.2M564.8 247.5L586.3 241.5L606.8 234.8L625.9 227.3L643.2 219.3M494 169.9L492.9 170.2M557.1 246.7L570.6 243.3L583.5 239.6L596.2 235.6L608.5 231.2L620.1 226.6L631.2 221.7L641.5 216.6L650.6 211.5M500.7 170.6L488.7 174.7M548.5 245.8L569.3 240.8L589.8 234.7L609.1 227.8L626.6 220.2L641.8 212.3L648.6 208.2L654.5 204.1L659.7 200L664.2 195.9L667.8 191.9L670.5 188.1M508 171.3L495.6 175.4L483.9 179.9M538.5 244.8L560.1 240.1L581 234.3L600.8 227.5L619 219.9L634.8 211.8L641.5 207.7L647.5 203.5L652.6 199.3L656.9 195.2L660.2 191.2L662.5 187.3M515.9 172.1L496.2 178.7L478 186.1M526.2 243.5L548.2 239.6L570.2 234.1L591.3 227.4L610.4 219.7L618.9 215.6L626.8 211.4L633.7 207.2L639.7 202.9L644.8 198.6L648.8 194.4L651.7 190.3L653.5 186.4M439.5 227.1L440.5 231.3L443 234.9M524.9 173.1L509.5 177.7L495.3 182.8L482.1 188.4L470.2 194.5M508.2 241.7L519.3 240.7L530.6 239.2L542.3 237.1L554.2 234.6L565.8 231.6L577.2 228.2L588.2 224.5L598.6 220.4L608.2 216.1L616.8 211.7L624.3 207.2L630.8 202.6L635.9 198L639.6 193.6L642.1 189.3L643 185.3M535.4 174.1L524.2 177.1L513.1 180.4L502.7 184.1L492.8 188.2L483.5 192.5L475.3 196.9L468 201.6L461.9 206.2L457.1 210.8L453.5 215.3L451.2 219.7L450.4 223.8L451 227.6L453 231.1L456.3 234.2L461 236.8M548.4 175.5L530.1 179.7L512.5 185.2L496.5 191.6L489.4 195.1L483 198.7L477.4 202.3L472.6 206L468.6 209.7L465.6 213.4L463.7 217L462.7 220.3L462.8 223.3L464 226.3L465.7 228.6L468.3 230.6L471.6 232.4L475.5 233.9L479.9 235.1L485.2 236.1L497 237.1L510.9 237L526 235.6L542.2 233.1L558.3 229.4L574 224.9L588.9 219.6L602 213.8L613.1 207.5L621.7 201.3L625 198.1L627.5 195.1L629.3 192.1L630.3 189.2L630.6 186.5L630 183.9M568.5 177.6L551.2 179.9L533.6 183.8L516.9 189L509.2 192L502.1 195.2L495.7 198.6L490.1 202.1L485.3 205.7L481.6 209.2L479 212.7L477.5 215.9L477.1 218.9L477.8 221.8L479.3 223.9L481.5 225.9L484.4 227.5L488.1 228.9L492.3 230L497.4 230.8L508.9 231.5L522 231L536.2 229.3L551.1 226.4L565.7 222.5L579.4 217.8L591.6 212.5L601.9 206.7L606.1 203.9L609.6 200.9L612.3 198.1L614.3 195.3L615.5 192.6L615.9 190.1L615.6 187.7L614.5 185.6L612.5 183.6L609.9 181.9M509.1 223.6L514.8 224.1L521.6 224.2L528.8 223.8L536.5 223L552.3 219.9L560.1 217.8L567.7 215.3L574.6 212.6L581 209.6L586.4 206.5L590.8 203.5L594.1 200.4L596.4 197.4L597.3 194.5L597.1 192L596.1 190.2L594.3 188.6L592 187.3L588.8 186.1L581 184.6L571.3 184.2L560.1 184.9L548.3 186.6L536.3 189.4L525.1 192.9L514.8 197.1L506.3 201.8L500.1 206.5L497.9 208.9L496.3 211.2L495.6 213.3L495.4 215.4L496 217.3L497.3 219L499.2 220.5L501.9 221.8L505.2 222.8L509.1 223.6M531.8 211.6L536.8 211.9L542.5 211.4L548.5 210.3L554.4 208.5L559.3 206.4L563.2 204L565.4 201.7L565.8 200.5L565.7 199.6L564.7 198.2L562.6 197.3L559.8 196.7L556.1 196.5L547.4 197.4L538.2 199.9L534.4 201.4L531.1 203.2L528.6 205L527.2 206.8L526.7 208.5L527.5 209.8L529.2 210.9L531.8 211.6" fill="none" stroke="#222" stroke-width="0.75"/>
<path d="M561.9 85.4L575.6 85.6L575.9 85.9L578.1 85.9L578.4 86.1L583.6 86.6L590.1 87.9L599.4 90.4L607.6 93.4L613.4 96.1L619.4 99.6L624.9 103.4L632.1 109.1L638.1 114.6L645.6 122.4L653.1 131.1L660.1 140.1L668.4 151.9L672.4 158.1L669.9 159.9L664.9 164.9L662.9 167.4L658.4 174.1L654.6 180.9L654.6 181.4L653.6 182.9L653.6 183.4L651.4 187.6L649.9 191.6L648.9 193.4L646.6 199.6L645.1 202.9L638.6 221.9L637.9 225.1L622.9 231.6L620.9 232.1L619.6 232.9L611.6 235.6L608.9 236.9L608.1 236.9L607.4 237.4L604.6 238.1L603.9 238.6L587.6 243.9L585.9 244.1L583.4 245.1L581.6 245.4L572.6 248.1L571.6 248.1L566.6 239.4L556.9 224.4L547.6 211.9L537.9 200.4L527.6 190.1L519.1 183.1L509.6 176.9L502.6 173.4L494.4 170.4L489.1 169.1L484.1 168.6L483.9 168.4L474.4 168.4L474.1 168.6L472.1 168.6L471.9 168.9L467.6 169.4L459.1 171.9L455.4 173.4L449.4 176.4L445.9 178.4L439.6 182.6L433.1 187.9L438.1 175.4L442.4 166.4L447.1 157.9L451.6 151.4L458.9 143.1L470.1 131.6L479.1 123.4L487.9 116.1L496.6 109.6L504.6 104.4L512.9 99.6L524.4 94.1L535.4 90.1L542.6 88.1L551.9 86.4L557.9 85.9L558.1 85.6L561.6 85.6L561.9 85.4Z" fill="#000000" fill-rule="evenodd"/>
<path d="M561.9 85.4L575.6 85.6L575.9 85.9L578.1 85.9L578.4 86.1L583.6 86.6L590.1 87.9L599.4 90.4L607.6 93.4L613.4 96.1L619.4 99.6L624.9 103.4L632.1 109.1L638.1 114.6L645.6 122.4L653.1 131.1L660.1 140.1L668.4 151.9L672.4 158.1L669.9 159.9L664.9 164.9L662.9 167.4L658.4 174.1L654.6 180.9L654.6 181.4L653.6 182.9L653.6 183.4L651.4 187.6L649.9 191.6L648.9 193.4L646.6 199.6L645.1 202.9L638.6 221.9L637.9 225.1L622.9 231.6L600.9 239.6L584.1 244.9L571.6 248.1L566.6 239.4L556.9 224.4L547.6 211.9L537.9 200.4L527.6 190.1L519.1 183.1L509.6 176.9L502.6 173.4L494.4 170.4L489.1 169.1L484.1 168.6L483.9 168.4L474.4 168.4L474.1 168.6L472.1 168.6L471.9 168.9L467.6 169.4L459.1 171.9L455.4 173.4L449.4 176.4L445.9 178.4L439.6 182.6L433.1 187.9L438.1 175.4L442.4 166.4L447.1 157.9L451.6 151.4L458.9 143.1L470.1 131.6L479.1 123.4L487.9 116.1L496.6 109.6L504.6 104.4L512.9 99.6L524.4 94.1L535.4 90.1L542.6 88.1L551.9 86.4L557.9 85.9L558.1 85.6L561.6 85.6L561.9 85.4Z" fill="#090909" fill-rule="evenodd"/>
<path d="M561.9 85.4L575.6 85.6L575.9 85.9L578.1 85.9L578.4 86.1L583.6 86.6L590.1 87.9L599.4 90.4L607.6 93.4L613.4 96.1L619.4 99.6L624.9 103.4L632.1 109.1L642.9 119.4L649.4 126.6L656.1 134.9L662.1 142.9L669.4 153.4L672.4 158.1L669.9 159.9L664.9 164.9L661.6 169.1L657.6 175.4L653.6 182.9L653.6 183.4L651.4 187.6L649.9 191.6L648.9 193.4L646.6 199.6L645.1 202.9L643.4 208.4L628.4 215.4L605.4 224.4L583.9 231.4L564.9 236.6L557.1 225.1L556.9 224.4L549.4 214.1L540.1 202.9L532.4 194.6L525.6 188.4L515.6 180.6L509.6 176.9L505.4 174.9L504.9 174.4L497.6 171.4L490.4 169.4L486.1 168.9L485.9 168.6L484.1 168.6L483.9 168.4L474.4 168.4L474.1 168.6L468.9 169.1L463.6 170.4L455.4 173.4L447.1 177.6L439.6 182.6L433.1 187.9L438.1 175.4L442.4 166.4L447.1 157.9L451.6 151.4L458.9 143.1L470.1 131.6L479.1 123.4L487.9 116.1L496.6 109.6L504.6 104.4L512.9 99.6L524.4 94.1L535.4 90.1L542.6 88.1L551.9 86.4L557.9 85.9L558.1 85.6L561.6 85.6L561.9 85.4Z" fill="#191919" fill-rule="evenodd"/>
<path d="M561.9 85.4L571.9 85.4L572.1 85.6L575.6 85.6L575.9 85.9L578.1 85.9L578.4 86.1L585.1 86.9L590.1 87.9L599.4 90.4L609.9 94.4L619.4 99.6L629.4 106.9L638.1 114.6L642.9 119.4L649.4 126.6L660.1 140.1L668.4 151.9L672.4 158.1L669.9 159.9L664.9 164.9L661.6 169.1L656.4 177.6L650.6 189.6L641.1 195L632.4 199.4L612.6 207.9L612.1 207.9L603.4 211.3L587.4 216.7L573.1 220.9L557.1 224.9L549.4 214.1L543.4 206.6L532.9 195.1L525.6 188.4L519.1 183.1L509.6 176.9L500.9 172.6L494.4 170.4L489.1 169.1L484.1 168.6L483.9 168.4L474.4 168.4L474.1 168.6L468.9 169.1L463.6 170.4L455.4 173.4L447.1 177.6L439.6 182.6L433.1 187.9L438.1 175.4L442.4 166.4L447.1 157.9L451.6 151.4L458.9 143.1L470.1 131.6L479.1 123.4L487.9 116.1L496.6 109.6L504.6 104.4L512.9 99.6L524.4 94.1L535.4 90.1L542.6 88.1L551.9 86.4L557.9 85.9L558.1 85.6L561.6 85.6L561.9 85.4Z" fill="#2a2a2a" fill-rule="evenodd"/>
<path d="M561.9 85.4L575.6 85.6L575.9 85.9L578.1 85.9L578.4 86.1L583.6 86.6L590.1 87.9L599.4 90.4L607.6 93.4L613.4 96.1L619.4 99.6L624.9 103.4L632.1 109.1L640.1 116.6L647.9 124.9L656.1 134.9L664.6 146.4L664.9 147.1L670.6 155.4L669.7 156.6L668.1 158.9L662.9 164.5L659.1 167.9L653.9 171.9L646.6 176.7L639.1 181.2L630.6 185.6L624.6 188.3L624.4 188.6L616.9 191.7L616.5 192.1L601.1 198.1L587.1 202.9L573.9 206.9L573.6 206.7L562.6 209.9L562.1 209.8L555.4 211.6L548.5 213.1L543.4 206.6L532.9 195.1L525.6 188.4L519.1 183.1L512.1 178.4L504.9 174.4L497.6 171.4L490.4 169.4L486.1 168.9L485.9 168.6L484.1 168.6L483.9 168.4L474.4 168.4L474.1 168.6L468.9 169.1L463.6 170.4L455.4 173.4L447.1 177.6L439.6 182.6L433.1 187.9L438.1 175.4L442.4 166.4L447.1 157.9L451.6 151.4L458.9 143.1L470.1 131.6L479.1 123.4L487.9 116.1L496.6 109.6L504.6 104.4L512.9 99.6L524.4 94.1L535.4 90.1L542.6 88.1L551.9 86.4L557.9 85.9L558.1 85.6L561.6 85.6L561.9 85.4Z" fill="#3b3b3b" fill-rule="evenodd"/>
<path d="M561.9 85.4L575.6 85.6L575.9 85.9L578.1 85.9L578.4 86.1L583.6 86.6L590.1 87.9L603.1 91.6L609.9 94.4L615.6 97.4L623.1 102.1L629.4 106.9L634.6 111.4L642.9 119.4L653.1 131.1L660.1 140.1L662.6 143.6L661.8 145.1L659 149.1L654.6 153.9L651.3 156.9L645.1 161.6L632.6 169.4L619.9 176L601.6 183.6L580.6 190.9L562.7 195.9L541.4 200.6L538.4 201.1L532.4 194.6L525.6 188.4L519.1 183.1L509.6 176.9L505.4 174.9L504.9 174.4L497.6 171.4L490.4 169.4L486.1 168.9L485.9 168.6L484.1 168.6L483.9 168.4L474.4 168.4L474.1 168.6L472.1 168.6L471.9 168.9L467.6 169.4L459.1 171.9L455.4 173.4L445.9 178.4L439.6 182.6L433.1 187.9L438.1 175.4L442.4 166.4L447.1 157.9L451.6 151.4L458.9 143.1L470.1 131.6L479.1 123.4L487.9 116.1L496.6 109.6L504.6 104.4L512.9 99.6L524.4 94.1L535.4 90.1L542.6 88.1L551.9 86.4L557.9 85.9L558.1 85.6L561.6 85.6L561.9 85.4Z" fill="#4c4c4c" fill-rule="evenodd"/>
<path d="M561.9 85.4L575.6 85.6L575.9 85.9L578.1 85.9L578.4 86.1L583.6 86.6L590.1 87.9L603.1 91.6L607.6 93.4L613.4 96.1L619.4 99.6L628.1 105.9L634.6 111.4L642.9 119.4L653.1 131.1L653.6 131.9L652.2 135.1L650 138.4L647.4 141.6L643.6 145.2L639.4 148.7L628.9 155.7L616.1 162.5L600.4 169.4L581.9 176.1L563.8 181.4L546.6 185.4L526.4 189L515.6 180.6L509.6 176.9L505.4 174.9L504.9 174.4L497.6 171.4L496.9 171.4L494.4 170.4L489.1 169.1L484.1 168.6L483.9 168.4L474.4 168.4L474.1 168.6L468.9 169.1L463.6 170.4L455.4 173.4L447.1 177.6L443.1 180.4L441.9 179.1L440.3 176.4L439.5 172.6L444.6 162.1L450.1 153.4L453.9 148.6L458.9 143.1L470.1 131.6L479.1 123.4L487.9 116.1L496.6 109.6L504.6 104.4L512.9 99.6L524.4 94.1L535.4 90.1L542.6 88.1L551.9 86.4L557.9 85.9L558.1 85.6L561.6 85.6L561.9 85.4Z" fill="#5d5d5d" fill-rule="evenodd"/>
<path d="M561.9 85.4L575.6 85.6L575.9 85.9L578.1 85.9L578.4 86.1L583.6 86.6L590.1 87.9L603.1 91.6L607.6 93.4L613.4 96.1L619.4 99.6L628.1 105.9L634.6 111.4L642.9 119.4L643.1 119.9L642.9 121.4L641.5 125.4L639.6 128.4L636.4 132.1L629.6 138L623.6 142.2L618.4 145.4L606.8 151.4L599.6 154.6L588.1 159.1L577.9 162.6L563.2 166.9L545.1 171.1L531.6 173.5L521.4 174.9L507.9 176.1L504.9 174.4L497.6 171.4L490.4 169.4L486.1 168.9L485.9 168.6L484.1 168.6L483.9 168.4L474.4 168.4L474.1 168.6L472.1 168.6L471.9 168.9L467.6 169.4L461 171.4L456.9 169.1L454.6 167.4L452.7 165.4L451.6 163.8L450.6 161.4L450.3 157.9L451.4 153.4L452.9 150.5L454.6 148L463.1 138.6L474.4 127.6L484.1 119.1L493.1 112.1L502.6 105.6L508.4 102.1L519.9 96.1L528.1 92.6L537.9 89.4L544.9 87.6L550.1 86.6L553.4 86.4L553.6 86.1L557.9 85.9L558.1 85.6L561.6 85.6L561.9 85.4Z" fill="#6e6e6e" fill-rule="evenodd"/>
<path d="M561.9 85.4L571.9 85.4L572.1 85.6L575.6 85.6L575.9 85.9L578.1 85.9L578.4 86.1L585.1 86.9L596.9 89.6L607.6 93.4L613.4 96.1L619.4 99.6L629.4 106.9L630.3 107.9L630.7 110.1L630.5 112.4L629.8 114.9L628.5 117.4L626.1 120.6L620.6 125.9L610.9 132.6L600.9 138L587.9 143.7L573.9 148.7L561.1 152.4L547.1 155.7L530.6 158.5L516.6 160.1L502.4 160.8L492.6 160.5L482.1 159.2L473.9 157L469.6 155L467.6 153.8L465.4 151.8L464 150.1L462.7 146.9L462.7 143.4L463.9 139.6L466.9 135.1L474.4 127.6L484.1 119.1L493.1 112.1L502.6 105.6L512.9 99.6L519.9 96.1L530.9 91.6L537.9 89.4L544.9 87.6L550.1 86.6L553.4 86.4L553.6 86.1L557.9 85.9L558.1 85.6L561.6 85.6L561.9 85.4Z" fill="#7f7f7f" fill-rule="evenodd"/>
<path d="M561.9 85.4L571.9 85.4L572.1 85.6L575.6 85.6L575.9 85.9L578.1 85.9L578.4 86.1L583.6 86.6L595.1 89.1L605.1 92.4L610.8 94.9L612.6 96.1L614.4 97.9L615.4 99.6L616 101.6L616 103.9L615.4 105.9L614.5 107.9L612.6 110.6L607.7 115.4L601.4 119.9L593.9 124.1L581.6 129.7L570 133.9L558.9 137.2L546.6 140L534.9 142.1L523.4 143.5L512.6 144.1L501.6 143.9L492.9 142.8L486.6 141.1L481.1 138.3L479.4 136.8L477.9 134.9L477 131.6L477.1 129.4L478.4 126.1L481.4 121.9L485.4 118.1L493.1 112.1L502.6 105.6L508.4 102.1L522.1 95.1L528.1 92.6L535.4 90.1L542.6 88.1L543.6 88.1L548.6 86.9L555.4 86.1L555.6 85.9L557.9 85.9L558.1 85.6L561.6 85.6L561.9 85.4Z" fill="#909090" fill-rule="evenodd"/>
<path d="M561.9 85.4L575.6 85.6L575.9 85.9L578.1 85.9L578.4 86.1L585.1 86.9L590 88.1L593.4 89.6L596.3 92.1L597.4 94.9L597.1 97.6L594.9 101.4L591.6 104.6L587.1 107.9L581.1 111.3L572.1 115.4L565.4 117.9L557.1 120.4L547.4 122.8L539.9 124.2L529.9 125.5L522.9 125.9L514.1 125.8L506.6 124.9L502.4 123.7L498.4 121.6L496 119.1L495.3 117.1L495.5 114.9L496.4 112.6L498.3 109.9L503.4 105.4L512.9 99.6L524.4 94.1L530.9 91.6L537.9 89.4L550.1 86.6L555.4 86.1L555.6 85.9L557.9 85.9L558.1 85.6L561.6 85.6L561.9 85.4Z" fill="#a1a1a1" fill-rule="evenodd"/>
<path d="M553.9 87.4L559.4 87.4L563.4 88.3L565.4 89.6L565.8 90.4L565.8 91.6L563.9 94.3L560.4 96.7L553.6 99.6L546.9 101.4L539.4 102.5L533.1 102.6L528.9 101.6L527.6 100.9L526.8 99.9L526.9 97.9L528.1 96.1L531.1 93.9L534.4 92.2L539.1 90.3L543.6 89L549.1 87.9L553.9 87.4Z" fill="#ababab" fill-rule="evenodd"/>
<path d="M571.8 248.2L589.3 243.2L606.4 237.6L622.6 231.6L637.7 225.1M564.8 236.5L586.4 230.5L606.8 223.8L625.8 216.4L643.2 208.3M557.1 224.8L570.6 221.4L583.6 217.7L596.2 213.7L608.5 209.3L620.1 204.7L631.2 199.8L641.5 194.7L650.6 189.6M548.5 213L569.5 208L589.9 201.9L609.1 195L626.7 187.4L642 179.4L654.6 171.3L659.8 167.2L664.2 163.1L667.7 159.3L670.5 155.3M538.5 201.1L560.2 196.4L581.1 190.6L600.8 183.8L619 176.2L627.3 172.1L634.9 168L641.6 163.9L647.5 159.8L652.6 155.7L656.8 151.6L660.1 147.6L662.5 143.6M526.2 188.9L548.2 185L570 179.6L591 172.9L601 169.1L610.4 165.1L618.9 161.1L626.8 156.8L633.5 152.7L639.7 148.3L644.7 144.1L648.8 139.8L651.7 135.8L653.5 131.8M439.5 172.6L440.5 176.6L443 180.3M508.2 176.2L519.3 175.2L530.4 173.7L542.2 171.7L554.1 169.1L565.7 166.2L577.2 162.7L588.1 159L598.5 155L608.1 150.7L616.6 146.3L624.2 141.7L630.7 137.1L635.8 132.6L639.6 128.2L642.1 123.8L643 119.8M462.9 139.9L457.7 144.6L453.8 149.3L451.4 153.8L450.4 158.1L450.9 162.1L452.9 165.6L456.2 168.6L461 171.3M476.5 126.6L471.5 130.6L467.6 134.6L464.8 138.3L463.1 142.1L462.7 145.5L463.4 148.7L465.3 151.7L468.3 154.2L472.4 156.4L477.7 158.2L483.7 159.5L490.8 160.4L498.5 160.8L507.2 160.8L516.2 160.2L525.8 159.3L535.7 157.8L545.9 155.9L565.9 151L575.5 148.1L584.8 144.8L593.7 141.2L601.9 137.4L609.2 133.6L615.4 129.6L620.7 125.7L624.9 121.8L628 118L629.9 114.3L630.6 110.9L630 107.5M493.4 112.6L488 116.2L483.5 120L480.2 123.6L478.1 127L477.1 130.3L477.4 133.4L478.8 136.1L481.4 138.5L485 140.4L489.7 142.1L495.5 143.3L502.3 144L509.8 144.2L518.1 144L526.6 143.2L535.6 142.1L544.9 140.4L554.3 138.3L563.5 135.8L572.5 133L581 129.9L588.7 126.6L595.6 123.2L601.8 119.6L606.8 116L610.9 112.4L613.8 108.9L615.5 105.4L615.9 102.4L615.2 99.5L613.1 96.8L609.9 94.6M509.1 125.4L517.1 126L526.5 125.8L536.8 124.7L547.4 122.8L557.8 120.3L568.1 116.9L577.2 113.2L585.2 109.1L591.2 105L595.2 100.9L596.5 98.9L597.2 96.9L597.4 95.2L596.9 93.5L596 91.9L594.5 90.6L592.5 89.3L589.8 88.2L583.3 86.7L575.4 86M574.3 86L571.6 86M522 95.9L512.6 100L504.8 104.6L499.2 109.2L497.3 111.4L496 113.6L495.4 115.8L495.5 117.6L496.3 119.5L497.7 121.1L499.7 122.5L502.2 123.6L509.1 125.4M531.8 102.5L536.6 102.8L542.2 102.3L548.3 101.2L554.2 99.4L559.4 97.2L563.2 94.9L565.4 92.5L565.8 91.5L565.7 90.4L564.7 89.1L562.4 88.1L559.5 87.6L555.7 87.4L547 88.4L538.1 90.8L534.1 92.5L530.9 94.2L528.5 96L527.1 97.7L526.7 99.3L527.5 100.8L529.1 101.8L531.8 102.5" fill="none" stroke="#242424" stroke-width="1"/>
<line x1="433.2" y1="233.9" x2="612.2" y2="252.4" stroke="#333" stroke-width="0.8"/>
<line x1="612.2" y1="252.4" x2="672.3" y2="188.3" stroke="#333" stroke-width="0.8"/>
<line x1="433.2" y1="233.9" x2="433.2" y2="69.7" stroke="#6a6a6a" stroke-width="1"/>
<path d="M433.2 233.9h-4.5M433.2 179.2h-4.5M433.2 124.4h-4.5M433.2 69.7h-4.5M433.2 233.9v4.5M448.1 235.4v4.5M463 237v4.5M477.9 238.5v4.5M492.9 240.1v4.5M507.8 241.6v4.5M522.7 243.2v4.5M537.6 244.7v4.5M552.5 246.2v4.5M567.5 247.8v4.5M582.4 249.3v4.5M597.3 250.9v4.5M612.2 252.4v4.5M612.2 252.4h4M617.2 247.1h4M622.2 241.7h4M627.2 236.4h4M632.2 231h4M637.2 225.7h4M642.2 220.4h4M647.3 215h4M652.3 209.7h4M657.3 204.3h4M662.3 199h4M667.3 193.6h4M672.3 188.3h4" stroke="#222" stroke-width="1.1" fill="none"/>
<text x="426.7" y="238.5" font-size="10.5" text-anchor="end">40</text>
<text x="426.7" y="183.7" font-size="10.5" text-anchor="end">60</text>
<text x="426.7" y="129" font-size="10.5" text-anchor="end">80</text>
<text x="426.7" y="74.3" font-size="10.5" text-anchor="end">100</text>
<text x="432.6" y="249.9" font-size="10.5" text-anchor="middle">10</text>
<text x="477.3" y="254.5" font-size="10.5" text-anchor="middle">9</text>
<text x="522.1" y="259.1" font-size="10.5" text-anchor="middle">8</text>
<text x="566.9" y="263.8" font-size="10.5" text-anchor="middle">7</text>
<text x="611.6" y="268.4" font-size="10.5" text-anchor="middle">6</text>
<text x="616.6" y="260.9" font-size="10.5" text-anchor="start" textLength="12.6" lengthAdjust="spacingAndGlyphs">30</text>
<text x="631.6" y="244.9" font-size="10.5" text-anchor="start" textLength="12.6" lengthAdjust="spacingAndGlyphs">43</text>
<text x="646.6" y="228.8" font-size="10.5" text-anchor="start" textLength="12.6" lengthAdjust="spacingAndGlyphs">55</text>
<text x="661.7" y="212.8" font-size="10.5" text-anchor="start" textLength="12.6" lengthAdjust="spacingAndGlyphs">68</text>
<text x="676.7" y="196.8" font-size="10.5" text-anchor="start" textLength="12.6" lengthAdjust="spacingAndGlyphs">80</text>
<text x="522.7" y="280.1" font-size="11.5" text-anchor="middle">pH</text>
<text x="673.1" y="232.3" font-size="11.5" text-anchor="start">T (ºC)</text>
<text transform="translate(400.8 153.9) rotate(-90)" font-size="11.5" text-anchor="middle">I<tspan font-size="7.5" dy="4.3" dx="0.6">p</tspan><tspan dy="-4.3"> (%)</tspan></text>
<path d="M58.4 462.3L118.6 398L297.5 416.3L297.5 580.5" fill="none" stroke="#6a6a6a" stroke-width="1"/>
<line x1="118.6" y1="398" x2="118.6" y2="562.2" stroke="#6a6a6a" stroke-width="1"/>
<line x1="58.4" y1="626.5" x2="118.6" y2="562.2" stroke="#333" stroke-width="0.8"/>
<line x1="118.6" y1="562.2" x2="297.5" y2="580.5" stroke="#333" stroke-width="0.8"/>
<path d="M196.9 640.7L214.5 635.6L231.5 630L247.7 624L262.9 617.5M189.9 640L211.5 633.9L231.9 627.1L251.1 619.6L268.4 611.6M119.3 562.3L118.2 562.6M182.2 639.2L195.7 635.8L208.7 632L221.3 628L233.6 623.6L245.3 618.9L256.3 614L266.6 608.9L275.7 603.7M126 563L114 567.1M173.6 638.3L194.5 633.2L214.9 627.1L234.2 620.1L251.8 612.5L267 604.6L273.7 600.4L279.7 596.3L284.9 592.3L289.4 588.1L293 584.2L295.7 580.3M133.2 563.7L120.9 567.8L109.1 572.3M163.6 637.3L185.3 632.5L206.1 626.7L226 619.9L244.2 612.2L259.9 604.1L266.7 599.9L272.7 595.7L277.8 591.5L282.1 587.4L285.4 583.4L287.7 579.5M141.2 564.5L121.4 571.1L103.3 578.5M151.4 636L173.3 632L195.4 626.5L216.5 619.7L226.3 616L235.6 612L244.1 608L251.9 603.7L258.8 599.5L264.9 595.2L270 590.9L274 586.7L276.9 582.5L278.7 578.6M64.7 619.7L65.7 623.8L68.2 627.5M150.2 565.4L134.8 570.1L120.5 575.2L107.3 580.9L95.4 586.9M133.3 634.2L144.4 633.2L155.8 631.6L167.4 629.6L179.3 627L191 624L202.4 620.6L213.4 616.8L223.8 612.8L233.4 608.5L242 604L249.5 599.5L255.9 594.8L261.1 590.3L264.8 585.9L267.3 581.5L268.3 577.5M160.7 566.5L149.4 569.5L138.4 572.8L127.9 576.6L118 580.6L108.8 585L100.6 589.4L93.3 594.1L87.1 598.7L82.3 603.3L78.7 607.9L76.5 612.2L75.6 616.4L76.2 620.2L78.2 623.7L81.5 626.7L86.2 629.3M173.7 567.8L155.1 572.2L137.5 577.7L121.6 584.1L114.5 587.7L108.1 591.2L102.5 594.9L97.7 598.6L93.8 602.4L90.8 606.1L88.8 609.6L87.9 612.9L88.1 616.1L89.2 618.9L91.1 621.3L93.6 623.2L96.8 625L100.7 626.5L105.4 627.7L110.4 628.7L122.5 629.7L136.5 629.5L151.5 628.1L167.7 625.4L183.8 621.8L199.6 617.2L214.3 611.9L227.5 605.9L238.5 599.8L247 593.5L250.3 590.3L252.8 587.2L254.6 584.2L255.6 581.4L255.8 578.7L255.2 576.2M193.8 569.9L176.3 572.3L158.7 576.2L142.1 581.4L134.3 584.5L127.1 587.8L120.6 591.2L115 594.8L110.4 598.3L106.7 601.8L104.1 605.3L102.6 608.6L102.3 611.6L103.1 614.4L104.6 616.6L106.8 618.5L109.9 620.1L113.5 621.5L122.6 623.3L134 624L147.3 623.4L161.7 621.7L176.6 618.7L191.1 614.8L204.8 610.1L217 604.7L227.1 599.1L231.2 596.2L234.8 593.3L237.5 590.4L239.5 587.6L240.7 584.9L241.2 582.4L240.8 580L239.7 577.9L237.7 575.8L235.1 574.1M134.3 616L140 616.6L146.8 616.7L154 616.3L161.7 615.4L177.4 612.3L185.3 610.2L192.9 607.7L199.8 605L206.1 602L211.6 598.9L216 595.8L219.3 592.7L221.6 589.7L222.5 586.8L222.3 584.3L221.3 582.5L219.5 580.9L217.2 579.6L214 578.4L206.3 576.9L196.5 576.5L185.4 577.2L173.6 579L161.6 581.8L150.3 585.3L140 589.6L131.5 594.2L125.3 599L123.1 601.4L121.6 603.7L120.8 605.8L120.7 607.9L121.2 609.8L122.5 611.5L124.4 612.9L127.1 614.3L130.4 615.3L134.3 616M157 604L162 604.3L167.7 603.8L173.7 602.7L179.6 600.9L184.5 598.8L188.4 596.4L190.6 594L191 592.9L190.9 591.9L189.9 590.6L187.8 589.6L185.1 589.1L181.3 588.9L172.6 589.8L163.4 592.3L159.6 593.8L156.3 595.6L153.8 597.4L152.4 599.2L152 600.9L152.7 602.3L154.4 603.3L157 604" fill="none" stroke="#222" stroke-width="0.75"/>
<path d="M189.6 477.6L199.9 477.9L200.1 478.1L206.9 478.6L207.1 478.9L215.1 480.1L221.1 481.6L229.6 484.4L236.1 487.1L240.9 489.6L247.6 493.9L253.4 498.1L260.1 503.9L271.1 514.9L277.4 522.1L284.6 531.4L290.4 539.4L297.6 550.4L293.9 553.1L289.6 557.6L284.1 565.4L281.1 570.6L275.9 581.4L273.4 587.9L272.6 589.1L272.4 590.4L269.4 597.6L268.4 601.1L267.9 601.9L264.4 612.4L264.4 613.1L262.6 617.6L253.1 621.9L246.9 624.1L245.1 625.1L243.1 625.6L241.1 626.6L238.4 627.4L230.1 630.6L227.9 631.1L227.1 631.6L222.6 633.1L221.9 633.1L219.6 634.1L218.9 634.1L217.4 634.9L212.4 636.1L210.9 636.9L209.9 636.9L203.9 638.9L196.9 640.6L192.1 632.4L191.4 631.6L188.4 626.4L182.6 618.1L182.4 617.4L171.4 602.6L162.1 591.9L154.4 584.1L144.6 575.9L135.1 569.6L126.6 565.4L120.4 563.1L117.6 562.6L116.6 562.1L112.6 561.4L111.1 561.4L110.9 561.1L100.1 560.9L99.9 561.1L97.6 561.1L97.4 561.4L93.1 561.9L85.1 564.1L75.1 568.6L65.6 574.6L58.4 580.4L63.1 568.4L66.6 561.4L66.6 560.9L68.1 558.4L68.1 557.9L72.4 550.4L76.9 543.9L83.9 535.9L95.6 523.9L104.6 515.6L112.1 509.4L121.1 502.6L129.4 497.1L139.4 491.4L150.6 486.1L161.9 482.1L171.9 479.6L179.4 478.6L179.6 478.4L184.4 478.1L184.6 477.9L189.4 477.9L189.6 477.6Z" fill="#000000" fill-rule="evenodd"/>
<path d="M189.6 477.6L199.9 477.9L200.1 478.1L206.9 478.6L207.1 478.9L215.1 480.1L221.1 481.6L229.6 484.4L236.1 487.1L240.9 489.6L247.6 493.9L253.4 498.1L260.1 503.9L271.1 514.9L277.4 522.1L284.6 531.4L290.4 539.4L297.6 550.4L293.9 553.1L289.6 557.6L284.1 565.4L281.1 570.6L275.9 581.4L273.4 587.9L272.6 589.1L272.4 590.4L269.4 597.6L268.4 601.1L267.9 601.9L262.9 617.4L250.6 622.9L249.4 623.1L244.4 625.4L238.4 627.4L237.6 627.9L235.6 628.4L234.3 629.1L233.6 629.1L224.1 632.6L221.9 633.1L219.6 634.1L218.9 634.1L207.1 637.9L196.9 640.6L192.1 632.4L188.9 627.6L188.4 626.4L182.6 618.1L182.4 617.4L171.4 602.6L162.1 591.9L154.4 584.1L144.6 575.9L135.1 569.6L126.6 565.4L120.4 563.1L117.6 562.6L116.6 562.1L112.6 561.4L111.1 561.4L110.9 561.1L100.1 560.9L99.9 561.1L97.6 561.1L97.4 561.4L93.1 561.9L85.1 564.1L75.1 568.6L65.6 574.6L58.4 580.4L63.1 568.4L66.6 561.4L66.6 560.9L68.1 558.4L68.1 557.9L72.4 550.4L76.9 543.9L83.9 535.9L95.6 523.9L104.6 515.6L112.1 509.4L121.1 502.6L129.4 497.1L139.4 491.4L150.6 486.1L161.9 482.1L171.9 479.6L179.4 478.6L179.6 478.4L184.4 478.1L184.6 477.9L189.4 477.9L189.6 477.6Z" fill="#090909" fill-rule="evenodd"/>
<path d="M189.6 477.6L199.9 477.9L200.1 478.1L206.9 478.6L207.1 478.9L215.1 480.1L221.1 481.6L233.4 485.9L237.6 487.9L244.6 491.9L253.4 498.1L257.9 501.9L263.9 507.4L271.1 514.9L283.1 529.4L290.4 539.4L291.1 540.9L295.9 547.6L297.6 550.4L293.9 553.1L291.1 555.9L287.1 560.9L283.4 566.6L275.9 581.4L270.9 593.6L268.4 600.7L252.4 608.2L233.9 615.6L210.6 623.4L189.9 629.1L182.4 617.4L171.4 602.6L162.1 591.9L154.4 584.1L148.1 578.6L139.6 572.4L132.9 568.4L123.4 564.1L116.6 562.1L112.6 561.4L111.1 561.4L110.9 561.1L108.6 561.1L108.4 560.9L100.1 560.9L99.9 561.1L97.6 561.1L97.4 561.4L93.1 561.9L85.1 564.1L75.1 568.6L65.6 574.6L58.4 580.4L63.1 568.4L66.6 561.4L66.6 560.9L68.1 558.4L68.1 557.9L72.4 550.4L76.9 543.9L83.9 535.9L95.6 523.9L104.6 515.6L112.1 509.4L121.1 502.6L129.4 497.1L139.4 491.4L150.6 486.1L161.9 482.1L171.9 479.6L179.4 478.6L179.6 478.4L184.4 478.1L184.6 477.9L189.4 477.9L189.6 477.6Z" fill="#191919" fill-rule="evenodd"/>
<path d="M189.6 477.6L194.9 477.6L195.1 477.9L202.6 478.1L202.9 478.4L206.9 478.6L207.1 478.9L215.1 480.1L222.9 482.1L229.6 484.4L237.6 487.9L247.6 493.9L257.9 501.9L267.6 511.1L277.4 522.1L283.1 529.4L290.4 539.4L297.6 550.4L293.9 553.1L291.1 555.9L287.1 560.9L281.1 570.6L275.9 581.4L275.9 581.9L268.6 585.9L268.1 586.4L253.9 593.4L245.4 597.2L232.1 602.4L217.1 607.7L216.6 607.6L205.9 611.1L195.1 614.2L194.9 614L188.9 615.8L182.4 617.3L181.6 616.6L175.1 607.4L164.6 594.6L154.4 584.1L149.6 579.9L141.1 573.4L135.1 569.6L126.6 565.4L120.4 563.1L114.1 561.6L111.1 561.4L110.9 561.1L108.6 561.1L108.4 560.9L97.6 561.1L89.1 562.9L81.4 565.6L75.1 568.6L65.6 574.6L58.4 580.4L63.1 568.4L66.6 561.4L66.6 560.9L68.1 558.4L68.1 557.9L72.4 550.4L76.9 543.9L83.9 535.9L95.6 523.9L104.6 515.6L112.1 509.4L121.1 502.6L129.4 497.1L139.4 491.4L150.6 486.1L161.9 482.1L171.9 479.6L179.4 478.6L179.6 478.4L184.4 478.1L184.6 477.9L189.4 477.9L189.6 477.6Z" fill="#2a2a2a" fill-rule="evenodd"/>
<path d="M189.6 477.6L199.9 477.9L200.1 478.1L206.9 478.6L207.1 478.9L215.1 480.1L221.1 481.6L229.6 484.4L236.1 487.1L240.9 489.6L247.6 493.9L253.4 498.1L260.1 503.9L267.6 511.1L272.9 516.9L283.1 529.4L290.4 539.4L291.1 540.9L295.4 546.9L295.7 547.6L295.1 548.6L291.9 552.9L287.9 557L279.4 563.9L267.9 571.4L258.4 576.6L250.6 580.4L233.9 587.6L214.1 594.7L205.6 597.4L204.9 597.4L197 599.9L195.3 600.1L194.4 600.6L194.1 600.5L191.4 601.4L173.6 605.5L162.1 591.9L154.4 584.1L144.6 575.9L137.6 571.1L128.9 566.4L123.4 564.1L116.6 562.1L112.6 561.4L111.1 561.4L110.9 561.1L108.6 561.1L108.4 560.9L100.1 560.9L99.9 561.1L97.6 561.1L97.4 561.4L94.4 561.6L87.4 563.4L79.1 566.6L73.4 569.6L65.6 574.6L58.4 580.4L63.1 568.4L66.6 561.4L66.6 560.9L68.1 558.4L68.1 557.9L72.4 550.4L76.9 543.9L83.9 535.9L95.6 523.9L104.6 515.6L112.1 509.4L121.1 502.6L129.4 497.1L139.4 491.4L150.6 486.1L161.9 482.1L171.9 479.6L179.4 478.6L179.6 478.4L184.4 478.1L184.6 477.9L189.4 477.9L189.6 477.6Z" fill="#3b3b3b" fill-rule="evenodd"/>
<path d="M189.6 477.6L199.9 477.9L200.1 478.1L206.9 478.6L207.1 478.9L215.1 480.1L221.1 481.6L233.4 485.9L237.6 487.9L244.6 491.9L253.4 498.1L257.9 501.9L263.9 507.4L271.1 514.9L279.6 524.9L287.6 535.6L287.6 536.1L286.4 538.4L284.6 540.9L280.6 545.4L275.1 550.3L270.6 553.7L260.4 560.2L251.9 564.9L243.7 568.9L234.1 573.1L222.1 577.7L209.4 582.1L190.6 587.6L166.6 593.1L163.6 593.6L154.4 584.1L149.6 579.9L141.1 573.4L135.1 569.6L128.9 566.4L123.4 564.1L116.6 562.1L112.6 561.4L111.1 561.4L110.9 561.1L108.6 561.1L108.4 560.9L97.6 561.1L97.4 561.4L93.1 561.9L85.1 564.1L79.1 566.6L69.6 571.9L64.6 575.4L58.4 580.4L63.1 568.4L66.6 561.4L66.6 560.9L68.1 558.4L68.1 557.9L72.4 550.4L76.9 543.9L83.9 535.9L95.6 523.9L104.6 515.6L112.1 509.4L121.1 502.6L129.4 497.1L139.4 491.4L150.6 486.1L161.9 482.1L171.9 479.6L179.4 478.6L179.6 478.4L184.4 478.1L184.6 477.9L189.4 477.9L189.6 477.6Z" fill="#4c4c4c" fill-rule="evenodd"/>
<path d="M189.6 477.6L194.9 477.6L195.1 477.9L202.6 478.1L202.9 478.4L206.9 478.6L207.1 478.9L215.1 480.1L222.9 482.1L229.6 484.4L236.1 487.1L240.9 489.6L247.6 493.9L254.6 499.1L260.1 503.9L267.6 511.1L278.4 523.4L278.7 524.1L278.6 524.6L277.2 527.6L274.3 531.9L271.9 534.5L264.4 541.1L260.9 543.7L253.4 548.4L240.1 555.4L227.9 560.9L211.9 566.9L193.4 572.6L172.9 577.6L151.4 581.5L148.1 578.6L141.1 573.4L135.1 569.6L128.9 566.4L120.4 563.1L114.1 561.6L111.1 561.4L110.9 561.1L108.6 561.1L108.4 560.9L97.6 561.1L89.1 562.9L85.1 564.1L79.1 566.6L73.4 569.6L68.4 572.9L68 572.9L67.1 571.7L65.6 569.1L64.7 565.1L69.9 554.6L75.4 545.9L79.1 541.1L83.9 535.9L95.6 523.9L104.6 515.6L114.4 507.6L123.6 500.9L134.4 494.1L143.9 489.1L153.1 485.1L161.9 482.1L171.9 479.6L179.4 478.6L179.6 478.4L184.4 478.1L184.6 477.9L189.4 477.9L189.6 477.6Z" fill="#5d5d5d" fill-rule="evenodd"/>
<path d="M189.6 477.6L194.9 477.6L195.1 477.9L202.6 478.1L202.9 478.4L206.9 478.6L207.1 478.9L215.1 480.1L222.9 482.1L229.6 484.4L237.6 487.9L244.6 491.9L249.4 495.1L256.1 500.4L263.9 507.4L268.4 512.1L268 514.1L266.9 517.1L264 521.6L261.1 524.9L256.4 529.1L251.1 533L244.1 537.4L232.6 543.4L218.6 549.4L202.6 555.1L187.1 559.7L171.1 563.4L155.9 566.2L142.9 567.8L133.1 568.6L128.9 566.4L123.4 564.1L116.6 562.1L112.6 561.4L111.1 561.4L110.9 561.1L108.6 561.1L108.4 560.9L97.6 561.1L97.4 561.4L93.1 561.9L86.1 563.9L81.6 561.4L79.2 559.4L77.5 557.4L76.1 554.9L75.7 553.1L75.6 549.4L77.1 544.9L80.1 540.1L88.1 531.4L99.9 519.9L110.9 510.4L121.1 502.6L129.4 497.1L139.4 491.4L147.1 487.6L155.1 484.4L163.6 481.6L171.9 479.6L179.4 478.6L179.6 478.4L184.4 478.1L184.6 477.9L189.4 477.9L189.6 477.6Z" fill="#6e6e6e" fill-rule="evenodd"/>
<path d="M189.6 477.6L194.9 477.6L195.1 477.9L202.6 478.1L202.9 478.4L206.9 478.6L207.1 478.9L215.1 480.1L226.6 483.4L231.6 485.1L235.6 487.1L236.1 487.1L244.6 491.9L249.4 495.1L255.4 499.9L255.8 501.6L255.8 503.9L254.5 508.1L251.1 513.1L247.9 516.4L244.6 519.1L235.4 525.3L226.4 530.2L216.6 534.6L201.1 540.4L187.9 544.4L171.4 548.3L155.1 551.1L141.9 552.6L129.1 553.3L119.6 553.1L108.6 551.9L99.9 549.8L96.4 548.4L93.1 546.5L90.6 544.5L89.6 543.1L88 539.9L87.9 536.1L88.6 533.4L89.6 531.4L92.3 527.4L99.9 519.9L108.1 512.6L119.4 503.9L126.6 498.9L139.4 491.4L147.1 487.6L155.1 484.4L163.6 481.6L171.9 479.6L179.4 478.6L179.6 478.4L184.4 478.1L184.6 477.9L189.4 477.9L189.6 477.6Z" fill="#7f7f7f" fill-rule="evenodd"/>
<path d="M189.6 477.6L199.9 477.9L200.1 478.1L204.9 478.4L205.1 478.6L206.9 478.6L210.1 479.4L211.4 479.4L221.1 481.6L231.6 485.1L236.7 487.6L238.6 489.1L240.2 491.1L241.3 494.4L241.1 496.6L240.4 498.8L237.4 503.4L232 508.4L225.9 512.6L217.6 517.2L207.9 521.6L198.1 525.3L184.1 529.5L173.1 532.1L159.9 534.6L149.9 535.8L138.4 536.6L127.4 536.4L119.1 535.5L111.4 533.4L107.1 531.4L104.9 529.6L103.3 527.6L102.2 524.4L102.6 520.9L104.5 517.1L107.1 513.9L110.9 510.4L119.4 503.9L126.6 498.9L134.4 494.1L147.1 487.6L155.1 484.4L161.9 482.1L167.4 480.6L176.1 478.9L181.6 478.4L181.9 478.1L184.4 478.1L184.6 477.9L189.4 477.9L189.6 477.6Z" fill="#909090" fill-rule="evenodd"/>
<path d="M189.6 477.6L194.9 477.6L195.1 477.9L202.6 478.1L202.9 478.4L204.9 478.4L205.1 478.6L206.9 478.6L207.1 478.9L211.3 479.4L215.1 480.4L218.9 482.1L220.4 483.2L221.7 484.6L222.6 486.9L222.4 489.8L220.6 493L217.2 496.6L212.5 500.1L206.4 503.6L198.6 507.2L190.4 510.3L179.1 513.7L170.6 515.6L160.4 517.3L153.1 518.1L144.1 518.4L137.6 518.2L131.1 517.2L125.7 515.4L122.6 513.4L120.9 510.9L120.5 508.4L121.1 506.1L122.7 503.4L125.2 500.6L127.9 498.4L131.9 495.6L143.9 489.1L155.1 484.4L166.4 480.9L170.6 480.1L171.9 479.6L179.4 478.6L179.6 478.4L184.4 478.1L184.6 477.9L189.4 477.9L189.6 477.6Z" fill="#a1a1a1" fill-rule="evenodd"/>
<path d="M177.6 479.9L183.1 479.7L187.8 480.4L190.4 481.7L191 482.6L191.1 483.6L190.5 485.1L188.9 486.9L185.4 489.2L179.4 491.8L173 493.6L165.6 494.9L159.1 495L154.9 494.3L153.1 493.5L152.1 492.4L151.9 490.9L153.1 488.8L155.6 486.7L158.9 484.9L166.9 481.9L173.4 480.4L177.6 479.9Z" fill="#ababab" fill-rule="evenodd"/>
<path d="M196.9 640.6L214.4 635.6L231.5 630L247.7 623.9L262.9 617.4M189.9 629L211.6 623L232 616.2L251 608.7L268.4 600.6M182.2 617.3L195.8 613.9L208.7 610.2L221.4 606.1L233.6 601.7L245.2 597.1L256.3 592.1L266.7 587L275.7 581.9M173.6 605.5L194.6 600.4L215 594.3L234.2 587.4L251.8 579.7L267.2 571.7L279.7 563.5L285 559.4L289.4 555.4L292.9 551.5L295.7 547.5M163.6 593.6L185.3 588.9L206.3 583L226 576.2L244.1 568.6L252.5 564.5L260.1 560.3L266.8 556.2L272.7 552L277.8 547.9L282 543.8L285.3 539.8L287.7 535.8M151.4 581.4L173.3 577.4L195.1 572L216.1 565.3L226.1 561.5L235.6 557.5L244.1 553.4L251.9 549.1L258.7 545L264.9 540.6L269.9 536.3L274 532.1L276.9 528L278.7 524M64.7 565.1L65.7 569.2L68.2 572.9M133.3 568.7L144.5 567.7L155.6 566.2L167.4 564.1L179.2 561.6L190.8 558.6L202.4 555.1L213.2 551.4L223.6 547.3L233.2 543L241.8 538.6L249.4 534L255.9 529.4L261 524.8L264.8 520.4L267.3 516L268.3 512M88.1 532.4L83 537.1L79.1 541.8L76.6 546.3L75.6 550.6L76.1 554.6L78.1 558.1L81.4 561.2L86.2 563.9M101.9 519L96.9 523L92.9 526.9L90 530.9L88.4 534.6L87.9 538.1L88.6 541.3L90.5 544.2L93.5 546.8L97.6 548.9L102.9 550.7L108.9 552L115.9 552.9L123.7 553.3L132.4 553.3L141.4 552.7L150.9 551.7L160.9 550.3L171.1 548.4L191 543.4L200.6 540.5L210 537.2L218.9 533.6L227.1 529.8L234.3 525.9L240.6 522L245.9 518L250.1 514.1L253.2 510.3L255.1 506.6L255.8 503.1L255.2 499.8M119.5 504.6L113.9 508.2L109.3 512L105.8 515.6L103.5 519.1L102.4 522.5L102.5 525.5L103.7 528.3L106.2 530.8L109.9 532.9L114.6 534.5L120.4 535.7L127.1 536.5L134.6 536.7L142.5 536.5L151.1 535.8L160 534.6L169.4 533L178.8 530.9L188.1 528.4L197.1 525.6L205.7 522.4L213.4 519.2L220.6 515.6L226.8 512L232 508.3L236 504.8L238.9 501.3L240.7 497.9L241.2 494.6L240.4 491.7L238.3 489L235.1 486.8M134.3 517.8L144.5 518.5L156.9 517.8L170.2 515.7L183.9 512.4L196.4 508.1L207.3 503.2L211.9 500.5L215.7 497.8L218.7 495.1L220.9 492.5L222.3 489.6L222.5 487L221.5 484.6L219.2 482.5L215.8 480.8L211.5 479.6L206.1 478.7L199.9 478.3M148.2 487.9L148 488M146.9 488.4L137.6 492.6L129.8 497.1L124.4 501.6L122.6 503.9L121.3 506.1L120.7 508.2L120.7 510.1L121.5 512L122.9 513.6L124.9 515L127.4 516.1L134.3 517.8M157 494.9L161.8 495.2L167.4 494.8L173.5 493.6L179.4 491.8L184.6 489.6L188.5 487.2L190.6 484.9L191 483.8L190.9 482.8L189.9 481.5L187.6 480.5L184.7 479.9L181 479.8L172.2 480.8L163.3 483.2L159.3 484.9L156.1 486.6L153.7 488.4L152.3 490.1L152 491.7L152.7 493.2L154.4 494.2L157 494.9" fill="none" stroke="#242424" stroke-width="1"/>
<line x1="58.4" y1="626.5" x2="237.3" y2="644.8" stroke="#333" stroke-width="0.8"/>
<line x1="237.3" y1="644.8" x2="297.5" y2="580.5" stroke="#333" stroke-width="0.8"/>
<line x1="58.4" y1="626.5" x2="58.4" y2="462.3" stroke="#6a6a6a" stroke-width="1"/>
<path d="M58.4 626.5h-4.5M58.4 571.8h-4.5M58.4 517h-4.5M58.4 462.3h-4.5M58.4 626.5v4.5M73.3 628v4.5M88.2 629.5v4.5M103.1 631.1v4.5M118 632.6v4.5M132.9 634.1v4.5M147.8 635.6v4.5M162.8 637.2v4.5M177.7 638.7v4.5M192.6 640.2v4.5M207.5 641.8v4.5M222.4 643.3v4.5M237.3 644.8v4.5M237.3 644.8h4M242.3 639.4h4M247.3 634.1h4M252.4 628.7h4M257.4 623.4h4M262.4 618h4M267.4 612.6h4M272.4 607.3h4M277.4 601.9h4M282.4 596.6h4M287.5 591.2h4M292.5 585.9h4M297.5 580.5h4" stroke="#222" stroke-width="1.1" fill="none"/>
<text x="51.9" y="631.1" font-size="10.5" text-anchor="end">40</text>
<text x="51.9" y="576.3" font-size="10.5" text-anchor="end">60</text>
<text x="51.9" y="521.6" font-size="10.5" text-anchor="end">80</text>
<text x="51.9" y="466.9" font-size="10.5" text-anchor="end">100</text>
<text x="57.8" y="642.5" font-size="10.5" text-anchor="middle">10</text>
<text x="102.5" y="647.1" font-size="10.5" text-anchor="middle">9</text>
<text x="147.2" y="651.6" font-size="10.5" text-anchor="middle">8</text>
<text x="192" y="656.2" font-size="10.5" text-anchor="middle">7</text>
<text x="236.7" y="660.8" font-size="10.5" text-anchor="middle">6</text>
<text x="242.3" y="653.3" font-size="10.5" text-anchor="start">30</text>
<text x="257.4" y="637.2" font-size="10.5" text-anchor="start">43</text>
<text x="272.4" y="621.1" font-size="10.5" text-anchor="start">55</text>
<text x="287.4" y="605.1" font-size="10.5" text-anchor="start">68</text>
<text x="302.5" y="589" font-size="10.5" text-anchor="start">80</text>
<text x="147.9" y="672.7" font-size="11.5" text-anchor="middle">pH</text>
<text x="298.3" y="624.9" font-size="11.5" text-anchor="start">T (ºC)</text>
<text transform="translate(26 546.5) rotate(-90)" font-size="11.5" text-anchor="middle">I<tspan font-size="7.5" dy="4.3" dx="0.6">p</tspan><tspan dy="-4.3"> (%)</tspan></text>
<path d="M438.8 446.9L540.2 398L679.5 433.1L679.5 593.4" fill="none" stroke="#6a6a6a" stroke-width="1"/>
<line x1="540.2" y1="398" x2="540.2" y2="558.3" stroke="#6a6a6a" stroke-width="1"/>
<line x1="438.8" y1="607.2" x2="540.2" y2="558.3" stroke="#333" stroke-width="0.8"/>
<line x1="540.2" y1="558.3" x2="679.5" y2="593.4" stroke="#333" stroke-width="0.8"/>
<path d="M650.7 607.3L652.1 602L652.4 596.6L651.5 591.2L649.5 585.8M647.3 609L649.2 603.1L649.7 597.1L648.7 591L646.4 585.1M643.5 610.8L645 607.6L646.1 604.3L646.8 600.9L647 597.6L646.7 594.3L646 590.9L644.8 587.6L643.2 584.2M639.2 612.8L641.3 609.3L642.8 605.7L643.8 602.1L644.2 598.3L643.9 594.5L643.1 590.8L641.8 587.1L639.8 583.4M575.2 641.6L582.2 640.3M634.3 615.2L637.1 611.3L639.2 607.4L640.6 603.3L641.2 599.2L641.1 595L640.3 590.8L638.6 586.6L636.3 582.5M571.6 640.7L580.1 639.2L588.4 637.3M628.1 618.2L632.1 613.9L635.1 609.5L637.1 605L638.2 600.4L638.2 595.6L637.3 590.9L635.4 586.1L632.6 581.6M567.7 639.7L583.3 636.9L597.6 632.9M618.9 622.6L624.8 618L629.4 613.1L632.7 607.9L634.7 602.5L635.3 597L634.4 591.5L632.2 586L628.7 580.6M563.6 638.6L573.1 637.3L582.2 635.5L590.7 633.3L598.7 630.6L605.9 627.6L612.5 624.1L618.2 620.3L623 616.3L626.8 612.1L629.6 607.6L631.4 603L632.1 598.3L631.8 593.6L630.4 588.9L628 584.1L624.5 579.5M441 606.1L442.6 608.2M559.2 637.5L568.8 636.4L578.3 634.6L587 632.5L595.3 629.9L602.9 626.8L609.5 623.4L615.3 619.6L620.2 615.5L624 611.1L626.7 606.6L628.4 601.9L628.9 597.2L628.3 592.4L626.6 587.7L623.9 583L620 578.4M443.5 604.9L447 609.3M554.4 636.3L564.6 635.3L574.2 633.7L583.2 631.7L591.7 629.1L599.5 626.1L606.2 622.7L612.2 618.8L617.1 614.7L620.9 610.3L623.6 605.8L625.2 601L625.5 596.2L624.7 591.3L622.6 586.5L619.4 581.7L615.1 577.2M446.1 603.7L448.6 607.1L451.8 610.5M549.1 635L559.5 634.2L569.5 632.8L579 630.8L587.8 628.3L595.8 625.4L602.9 621.9L608.9 618.1L614 613.9L617.8 609.4L620.5 604.7L621.8 599.9L621.9 594.9L620.7 590L618.2 585L614.5 580.3L609.7 575.8M448.9 602.3L452.3 607.2L457.1 611.8M543.2 633.5L553.9 633L564.5 631.8L574.2 630L583.4 627.6L591.7 624.7L599.2 621.3L605.5 617.4L610.7 613.1L614.6 608.5L617.1 603.7L618.3 598.7L618.1 593.6L616.5 588.6L613.5 583.6L609.2 578.8L603.6 574.3M451.8 600.9L453.7 604.1L456.3 607.3L459.4 610.4L463 613.3M536.1 631.7L547.4 631.6L558.3 630.7L568.8 629.1L578.5 626.9L587.4 624L595.3 620.5L602 616.5L607.3 612.1L611.3 607.3L613.7 602.3L614.6 597.2L613.9 591.9L611.6 586.7L607.9 581.7L602.7 576.8L596.2 572.4M454.9 599.4L457.3 603.6L460.6 607.6L464.9 611.4L470.1 615.1M527.2 629.5L539 629.9L550.8 629.5L562.2 628.2L572.8 626.2L582.4 623.4L591 619.8L598.3 615.7L603.9 611L607.9 605.9L609.3 603.3L610.1 600.7L610.6 597.9L610.5 595.2L610.1 592.4L609.1 589.6L607.7 586.9L605.8 584.2L600.9 579L594.5 574.3L586.5 570M458.2 597.8L461.1 603.1L465.6 608.2L471.6 613L479 617.3M543.6 559.1L539.2 558.8M511.2 625.4L526.4 627.4L542.1 627.9L557.2 626.8L564.3 625.8L571.2 624.3L577.7 622.4L583.6 620.3L589.1 617.8L593.7 615.2L597.8 612.2L601.1 609L603.7 605.6L605.4 602.2L606.3 598.7L606.3 595L605.6 591.4L604 587.8L601.6 584.3L598.4 580.9L594.5 577.7L589.9 574.6L584.7 571.8L578.8 569.2L572.5 567L565.7 565L558.5 563.3L550.9 562L535.5 560.6M461.9 596.1L463.3 599.8L465.6 603.4L468.7 606.9L472.6 610.3L477.3 613.4L482.5 616.3L488.4 619L495 621.4M465.9 594.1L466.6 596.9L467.8 599.7L469.5 602.4L471.6 605L477.3 610L484.8 614.5L493.9 618.5L504.1 621.6L515.2 624L526.8 625.4L538.6 625.9L550.4 625.4L561.6 624L572 621.6L581.2 618.5L588.9 614.6L595.1 610L597.5 607.5L599.3 605L601.1 601.4L601.9 597.7L601.8 594L600.7 590.3L598.7 586.6L595.8 583.1L592.1 579.7L587.5 576.5L582.1 573.5L576.2 570.8L569.7 568.5L562.6 566.5L555.3 564.9L547.5 563.7L539.6 562.9L531.5 562.5M470.5 591.9L470.7 594.6L471.5 597.2L472.7 599.9L474.5 602.5L479.4 607.4L486.1 611.9L494.2 615.8L503.8 619.1L514.3 621.5L525.6 623.1L537.1 623.6L548.4 623.3L559.4 621.9L569.3 619.7L578.2 616.6L585.5 612.9L591.3 608.5L593.5 606L595.1 603.6L596.6 600.1L597.2 596.6L596.8 593.1L595.5 589.5L593.3 586L590.2 582.7L586.4 579.5L581.7 576.5L576.4 573.8L570.4 571.4L564.1 569.3L557.1 567.6L549.9 566.3L542.3 565.3L534.5 564.8L526.9 564.7M476 589.2L475.7 591.8L475.9 594.4L476.5 596.9L477.8 599.5L479.4 601.9L481.6 604.3L487.4 608.9L494.7 612.9L503.6 616.2L513.5 618.8L524 620.5L534.8 621.2L545.8 621L556.4 619.8L566 617.7L574.5 614.8L581.7 611.1L587.1 606.8L589.1 604.4L590.5 602.1L591.7 598.7L592 595.3L591.3 591.9L589.7 588.6L587.3 585.3L584 582.1L579.8 579.2L575.1 576.5L569.5 574L563.6 572L557 570.2L550.3 568.8L543.1 567.8L535.8 567.3L528.6 567.1L521.3 567.4M483.5 585.7L482.2 588.1L481.5 590.5L481.4 592.9L481.7 595.4L482.6 597.8L484 600.2L485.9 602.6L488.4 604.9L494.7 609.1L502.5 612.7L511.5 615.5L521.6 617.5L532.2 618.5L542.8 618.5L553.1 617.5L562.3 615.6L570.5 612.8L577.4 609.2L580.2 607.2L582.4 605L584.2 602.7L585.4 600.4L586.3 597.1L586.1 593.9L585.1 590.6L583.1 587.4L580.3 584.4L576.7 581.5L572.3 578.9L567.1 576.4L561.4 574.4L555.1 572.6L548.4 571.2L541.6 570.3L534.7 569.8L527.6 569.8L520.7 570.2L513.9 571M513.2 612.6L519 614L525.1 614.9L537.4 615.6L543.9 615.4L549.8 614.8L555.4 613.8L560.8 612.5L565.5 610.8L569.8 608.8L573.5 606.5L576.3 603.9L578.4 601.2L579.6 598.4L580 595.5L579.5 592.7L578.3 590L576.4 587.3L573.8 584.8L570.5 582.4L566.6 580.2L562.2 578.2L552.1 575.1L540.7 573.2L528.9 572.7L517.3 573.7L506.9 575.9L502.4 577.5L498.4 579.3L494.9 581.4L492 583.8L489.9 586.3L488.4 588.9L487.8 591.6L487.9 594.3L488.7 597.1L490.3 599.8L492.6 602.4L495.6 604.9L499.3 607.2L503.5 609.3L513.2 612.6M514.7 609.2L524.7 611.4L535.4 612.2L545.8 611.7L555.6 609.8L559.6 608.4L563.4 606.8L566.6 604.8L569.1 602.7L571 600.5L572.2 598L572.6 595.6L572.2 593.1L571.3 590.8L569.7 588.6L567.6 586.4L564.9 584.5L558 580.9L549.7 578.3L540.3 576.7L530.4 576.2L520.9 576.8L512.1 578.6L504.8 581.3L501.8 583L499.3 584.9L497.4 586.9L496 589.1L495.3 591.2L495.1 593.6L495.6 595.8L496.7 598.1L498.4 600.3L500.7 602.4L506.8 606.2L514.7 609.2M519 605.6L526.6 607.2L534.7 607.9L542.7 607.5L550.1 606.2L556.2 603.9L558.7 602.4L560.7 600.8L562.1 599L563 597.2L563.4 595.3L563.1 593.4L562.4 591.6L561.2 590L557.6 586.8L552.5 584.2L546.1 582.1L538.9 580.8L531.5 580.4L524.1 580.9L517.5 582.2L511.8 584.3L507.6 587L506.1 588.6L505 590.2L504.4 591.9L504.3 593.6L504.7 595.3L505.5 597.1L508.5 600.4L513.1 603.3L519 605.6M526.6 600.4L530.6 601.2L534.8 601.4L539.1 601.2L542.8 600.4L546 599.2L548.2 597.5L549.3 595.6L549.3 593.7L548.3 591.9L546.3 590.2L543.5 588.8L540.1 587.7L536.1 587.1L532.2 586.9L528.2 587.2L524.8 588L521.9 589.1L519.8 590.6L518.5 592.3L518.3 594.2L519 596L520.8 597.7L523.4 599.2L526.6 600.4" fill="none" stroke="#222" stroke-width="0.75"/>
<path d="M531.1 439.1L537.4 439.4L537.6 439.6L540.9 439.9L546.4 441.1L550.9 442.6L559.9 446.9L566.6 451.1L576.6 459.1L586.1 468.6L593.4 477.1L599.1 484.6L608.9 498.9L619.6 516.9L625.4 527.9L625.9 528.4L630.6 537.9L641.1 559.9L650.6 581.9L654.1 591.1L654.9 595.1L654.9 601.1L653.9 605.9L649.4 599.1L645.1 593.6L638.4 586.6L634.6 583.6L631.6 581.6L628.1 579.9L624.6 578.6L622.1 578.1L620.1 578.1L619.9 577.9L615.6 578.1L610.1 579.6L605.6 581.9L599.6 586.4L593.9 592.1L589.6 597.4L584.9 604.1L578.1 615.9L572.6 604.4L572.1 603.9L571.9 602.9L571.4 602.4L571.4 601.9L570.6 600.9L570.6 600.4L560.4 581.9L550.9 567.1L546.4 560.9L540.4 553.4L536.4 548.9L529.9 542.4L521.6 535.6L515.9 531.9L510.4 529.1L502.1 526.4L498.1 525.9L497.9 525.6L495.6 525.6L495.4 525.4L490.6 525.4L490.4 525.6L486.4 525.9L481.9 526.9L478.1 528.1L470.6 531.6L462.6 536.9L456.6 541.9L447.1 551.6L438.9 562.1L439.4 559.9L440.6 556.6L440.6 555.9L448.9 531.6L449.9 529.6L452.6 521.6L453.4 520.4L454.1 517.9L459.1 505.9L462.9 498.1L462.9 497.6L463.6 496.6L463.9 495.6L469.1 485.4L475.4 474.9L480.9 467.1L484.1 463.1L490.1 457.1L497.1 451.6L504.1 447.1L511.1 443.6L518.1 441.1L525.1 439.6L530.9 439.4L531.1 439.1Z" fill="#050505" fill-rule="evenodd"/>
<path d="M531.1 439.1L537.4 439.4L537.6 439.6L540.9 439.9L546.4 441.1L550.9 442.6L559.9 446.9L566.6 451.1L576.6 459.1L586.1 468.6L593.4 477.1L599.1 484.6L608.9 498.9L614.9 508.6L622.1 521.4L634.9 546.4L634.9 546.9L636.9 550.6L636.9 551.1L638.6 554.4L638.6 554.9L644.1 566.6L650.6 581.9L652 586.9L652.5 590.1L652.4 594.1L651.6 598.6L650.7 601.1L647.1 596.1L643.1 591.4L638.4 586.6L631.6 581.6L626.9 579.4L622.1 578.1L617.9 577.9L617.6 578.1L614.1 578.4L610.1 579.6L605.6 581.9L603.4 583.4L599.6 586.4L593.9 592.1L589.6 597.4L584.9 604.1L578.1 615.9L572.6 604.4L572.1 603.9L571.9 602.9L571.4 602.4L571.4 601.9L570.6 600.9L570.6 600.4L560.4 581.9L550.9 567.1L546.4 560.9L540.4 553.4L536.4 548.9L529.9 542.4L523.4 536.9L519.1 533.9L515.9 531.9L508.6 528.4L504.1 526.9L499.6 525.9L495.6 525.6L495.4 525.4L490.6 525.4L490.4 525.6L488.1 525.6L487.9 525.9L483.9 526.4L475.6 529.1L468.9 532.6L462.6 536.9L456.6 541.9L447.1 551.6L438.9 562.1L439.4 559.9L440.6 556.6L440.6 555.9L448.9 531.6L449.9 529.6L452.6 521.6L453.4 520.4L454.1 517.9L459.1 505.9L462.9 498.1L462.9 497.6L463.6 496.6L463.9 495.6L469.1 485.4L475.4 474.9L480.9 467.1L484.1 463.1L490.1 457.1L497.1 451.6L504.1 447.1L511.1 443.6L518.1 441.1L525.1 439.6L530.9 439.4L531.1 439.1Z" fill="#0f0f0f" fill-rule="evenodd"/>
<path d="M531.1 439.1L537.4 439.4L537.6 439.6L540.9 439.9L546.4 441.1L550.9 442.6L559.9 446.9L566.6 451.1L576.6 459.1L586.1 468.6L593.4 477.1L599.1 484.6L605.9 494.4L612.6 504.9L623.6 524.1L634.9 546.4L634.9 546.9L638.6 554.4L638.6 554.9L645.9 570.6L648.9 578.3L649.8 583.4L649.8 586.9L649.4 590.1L648.6 593.1L647.3 596.4L643.1 591.4L638.4 586.6L631.6 581.6L626.9 579.4L622.1 578.1L617.9 577.9L617.6 578.1L615.6 578.1L613.1 578.6L610.1 579.6L605.6 581.9L603.4 583.4L599.6 586.4L593.9 592.1L589.6 597.4L584.9 604.1L578.1 615.9L572.6 604.4L572.1 603.9L571.9 602.9L571.4 602.4L571.4 601.9L570.6 600.9L570.6 600.4L560.4 581.9L550.9 567.1L546.4 560.9L540.4 553.4L536.4 548.9L529.9 542.4L523.4 536.9L519.1 533.9L515.9 531.9L508.6 528.4L504.1 526.9L499.6 525.9L495.6 525.6L495.4 525.4L490.6 525.4L490.4 525.6L488.1 525.6L487.9 525.9L483.9 526.4L475.6 529.1L468.9 532.6L462.6 536.9L456.6 541.9L447.1 551.6L438.9 562.1L439.4 559.9L440.6 556.6L440.6 555.9L448.9 531.6L449.9 529.6L452.6 521.6L453.4 520.4L454.1 517.9L459.1 505.9L462.9 498.1L462.9 497.6L463.6 496.6L463.9 495.6L469.1 485.4L475.4 474.9L480.9 467.1L484.1 463.1L490.1 457.1L497.1 451.6L504.1 447.1L511.1 443.6L518.1 441.1L525.1 439.6L530.9 439.4L531.1 439.1Z" fill="#191919" fill-rule="evenodd"/>
<path d="M531.1 439.1L537.4 439.4L537.6 439.6L540.9 439.9L546.4 441.1L550.9 442.6L559.9 446.9L566.6 451.1L576.6 459.1L586.1 468.6L593.4 477.1L599.1 484.6L608.9 498.9L614.9 508.6L622.1 521.4L634.9 546.4L634.9 546.9L638.6 554.4L638.6 554.9L644.9 568.4L646.1 571.9L646.8 574.9L647 580.6L646.1 585.9L644.6 589.6L643.4 591.8L638.4 586.6L635.6 584.4L631.6 581.6L626.9 579.4L622.1 578.1L617.9 577.9L617.6 578.1L614.1 578.4L610.1 579.6L605.6 581.9L601.4 584.9L593.9 592.1L589.6 597.4L584.9 604.1L578.1 615.9L572.6 604.4L572.1 603.9L571.9 602.9L571.4 602.4L571.4 601.9L570.6 600.9L570.6 600.4L560.4 581.9L550.9 567.1L546.4 560.9L540.4 553.4L536.4 548.9L529.9 542.4L523.4 536.9L519.1 533.9L515.9 531.9L508.6 528.4L504.1 526.9L499.6 525.9L495.6 525.6L495.4 525.4L490.6 525.4L490.4 525.6L488.1 525.6L487.9 525.9L483.9 526.4L475.6 529.1L468.9 532.6L462.6 536.9L456.6 541.9L447.1 551.6L438.9 562.1L439.4 559.9L440.6 556.6L440.6 555.9L448.9 531.6L449.9 529.6L452.6 521.6L453.4 520.4L454.1 517.9L459.1 505.9L462.9 498.1L462.9 497.6L463.6 496.6L463.9 495.6L469.1 485.4L475.4 474.9L480.9 467.1L484.1 463.1L490.1 457.1L497.1 451.6L504.1 447.1L511.1 443.6L518.1 441.1L525.1 439.6L530.9 439.4L531.1 439.1Z" fill="#232323" fill-rule="evenodd"/>
<path d="M531.1 439.1L537.4 439.4L537.6 439.6L540.9 439.9L546.4 441.1L550.9 442.6L559.9 446.9L566.6 451.1L576.6 459.1L586.1 468.6L593.4 477.1L599.1 484.6L608.9 498.9L614.9 508.6L622.1 521.4L634.9 546.4L634.9 546.9L636.9 550.6L636.9 551.1L638.6 554.4L638.6 554.9L642.6 563.4L643.6 566.6L644.1 569.6L644.1 575.4L642.6 581.1L641.4 583.9L639.3 587.4L631.6 581.6L628.1 579.9L624.6 578.6L622.1 578.1L620.1 578.1L619.9 577.9L617.9 577.9L617.6 578.1L614.1 578.4L610.1 579.6L605.6 581.9L601.4 584.9L593.9 592.1L589.6 597.4L584.9 604.1L578.1 615.9L572.6 604.4L572.1 603.9L572.1 603.4L571.4 602.4L571.4 601.9L570.6 600.9L570.6 600.4L560.4 581.9L550.9 567.1L542.9 556.4L538.6 551.4L527.4 540.1L518.4 533.4L508.6 528.4L504.1 526.9L497.9 525.6L490.6 525.4L490.4 525.6L488.1 525.6L487.9 525.9L483.9 526.4L475.6 529.1L468.9 532.6L462.6 536.9L456.6 541.9L447.1 551.6L438.9 562.1L439.4 559.9L440.6 556.6L440.6 555.9L448.9 531.6L449.9 529.6L452.6 521.6L453.4 520.4L454.1 517.9L459.1 505.9L462.9 498.1L462.9 497.6L463.6 496.6L463.9 495.6L469.1 485.4L475.4 474.9L480.9 467.1L484.1 463.1L490.1 457.1L497.1 451.6L504.1 447.1L511.1 443.6L518.1 441.1L525.1 439.6L530.9 439.4L531.1 439.1Z" fill="#2e2e2e" fill-rule="evenodd"/>
<path d="M531.1 439.1L537.4 439.4L537.6 439.6L540.9 439.9L546.4 441.1L550.9 442.6L559.9 446.9L566.6 451.1L576.6 459.1L586.1 468.6L593.4 477.1L601.1 487.4L612.6 504.9L622.1 521.4L634.9 546.4L634.9 546.9L639.9 557.3L640.8 560.6L641.4 564.4L640.9 570.4L640.2 573.1L638.6 577.1L636.8 580.1L634.4 583.4L628.1 579.9L624.6 578.6L622.1 578.1L620.1 578.1L619.9 577.9L615.6 578.1L610.1 579.6L605.6 581.9L601.4 584.9L593.9 592.1L588.1 599.4L582.4 608.4L575.1 609.8L572.6 604.4L572.1 603.9L571.9 602.9L571.4 602.4L571.4 601.9L570.6 600.9L570.6 600.4L566.6 593.4L566.4 592.4L562.9 586.6L562.1 584.9L561.1 583.6L560.4 581.9L553.6 571.1L546.4 560.9L536.4 548.9L527.4 540.1L518.4 533.4L508.6 528.4L504.1 526.9L497.9 525.6L490.6 525.4L490.4 525.6L488.1 525.6L487.9 525.9L483.9 526.4L475.6 529.1L468.9 532.6L462.6 536.9L456.6 541.9L447.1 551.6L438.9 562.1L439.4 559.9L440.6 556.6L440.6 555.9L448.9 531.6L449.9 529.6L452.6 521.6L453.4 520.4L454.1 517.9L459.1 505.9L462.9 498.1L462.9 497.6L463.6 496.6L463.9 495.6L469.1 485.4L475.4 474.9L480.9 467.1L484.1 463.1L490.1 457.1L497.1 451.6L504.1 447.1L511.1 443.6L518.1 441.1L525.1 439.6L530.9 439.4L531.1 439.1Z" fill="#383838" fill-rule="evenodd"/>
<path d="M531.1 439.1L537.4 439.4L537.6 439.6L540.9 439.9L546.4 441.1L550.9 442.6L559.9 446.9L566.6 451.1L576.6 459.1L586.1 468.6L594.4 478.4L602.9 489.9L612.6 504.9L622.1 521.4L634.9 546.4L637.6 553.1L638.3 557.1L638.4 559.9L638.1 563.1L637.2 566.6L635.7 570.4L633.7 573.6L630.5 577.6L628.2 579.9L627.6 579.9L624.6 578.6L622.1 578.1L620.1 578.1L619.9 577.9L614.1 578.4L610.1 579.6L605.6 581.9L599.6 586.4L593.9 592.1L588.9 598.6L588.1 599.2L580.1 601.1L571.4 602.4L570.6 600.4L570.1 599.9L564.1 588.4L553.6 571.1L546.4 560.9L536.4 548.9L529.9 542.4L525.9 538.9L519.1 533.9L515.9 531.9L508.6 528.4L504.1 526.9L499.6 525.9L495.6 525.6L495.4 525.4L488.1 525.6L481.9 526.9L475.6 529.1L466.9 533.9L462.6 536.9L456.6 541.9L449.4 549.1L443.4 556.1L438.9 562.1L439.4 559.9L440.6 556.6L440.6 555.9L448.9 531.6L449.9 529.6L452.6 521.6L453.4 520.4L454.1 517.9L459.1 505.9L462.9 498.1L462.9 497.6L463.6 496.6L463.9 495.6L469.1 485.4L475.4 474.9L480.1 468.1L484.1 463.1L490.1 457.1L497.1 451.6L504.1 447.1L511.1 443.6L518.1 441.1L525.1 439.6L530.9 439.4L531.1 439.1Z" fill="#424242" fill-rule="evenodd"/>
<path d="M531.1 439.1L537.4 439.4L537.6 439.6L540.9 439.9L546.4 441.1L550.9 442.6L561.6 447.9L570.4 453.9L576.6 459.1L586.1 468.6L591.1 474.4L601.1 487.4L608.9 498.9L616.6 511.6L625.9 528.4L633.6 543.9L635.2 549.9L635.4 554.1L634.8 557.9L633.8 561.1L632.1 564.6L629.9 567.9L627.4 570.9L624.6 573.6L619.5 577.6L617.6 578.1L614.1 578.4L610.1 579.6L605.6 581.9L603.4 583.4L597.6 588.3L586.4 591.6L579.6 593.2L567.6 595.1L566.4 592.4L562.9 586.6L562.1 584.9L561.1 583.6L560.4 581.9L553.6 571.1L547.1 561.9L538.6 551.4L529.9 542.4L523.4 536.9L519.1 533.9L515.9 531.9L510.4 529.1L504.1 526.9L499.6 525.9L495.6 525.6L495.4 525.4L488.1 525.6L481.9 526.9L475.6 529.1L466.9 533.9L462.6 536.9L456.6 541.9L449.4 549.1L443.4 556.1L438.9 562.1L439.4 559.9L440.6 556.6L440.6 555.9L448.9 531.6L449.9 529.6L452.6 521.6L453.4 520.4L454.1 517.9L459.1 505.9L462.9 498.1L462.9 497.6L463.6 496.6L463.9 495.6L469.1 485.4L475.4 474.9L480.1 468.1L484.1 463.1L490.1 457.1L497.1 451.6L504.1 447.1L511.1 443.6L518.1 441.1L525.1 439.6L530.9 439.4L531.1 439.1Z" fill="#4c4c4c" fill-rule="evenodd"/>
<path d="M531.1 439.1L537.4 439.4L537.6 439.6L539.4 439.6L543.4 440.4L546.4 441.1L553.4 443.6L562.9 448.6L572.9 455.9L576.6 459.1L586.1 468.6L593.4 477.1L602.9 489.9L612.6 504.9L622.1 521.4L630.4 537.4L631.6 541.1L632.2 546.4L631.8 550.4L630.6 554.6L627.2 560.6L625.2 563.1L621.6 566.6L614.1 572.2L605.4 576.9L598.1 579.9L590.9 582.3L582.1 584.6L576.9 585.6L563.6 587.5L553.6 571.1L547.1 561.9L538.6 551.4L529.9 542.4L523.4 536.9L519.1 533.9L515.9 531.9L510.4 529.1L504.1 526.9L499.6 525.9L495.6 525.6L495.4 525.4L488.1 525.6L481.9 526.9L475.6 529.1L470.6 531.6L462.6 536.9L456.6 541.9L449.4 549.1L442.6 557.1L441 555.1L448.9 531.6L449.9 529.6L452.6 521.6L453.4 520.4L454.1 517.9L459.1 505.9L462.9 498.1L462.9 497.6L463.6 496.6L463.9 495.6L469.1 485.4L475.4 474.9L480.9 467.1L484.1 463.1L490.1 457.1L497.1 451.6L504.1 447.1L511.1 443.6L518.1 441.1L525.1 439.6L530.9 439.4L531.1 439.1Z" fill="#565656" fill-rule="evenodd"/>
<path d="M531.1 439.1L537.4 439.4L537.6 439.6L540.9 439.9L546.4 441.1L550.9 442.6L561.6 447.9L570.4 453.9L576.6 459.1L586.1 468.6L591.1 474.4L601.1 487.4L608.9 498.9L616.6 511.6L626.6 529.9L628.3 534.4L629 539.4L628.7 543.4L627.7 547.1L625.6 551.4L624.3 553.4L619.6 558.7L616.1 561.6L611.4 564.9L606.6 567.6L600.7 570.4L589.9 574.3L576.6 577.5L559.1 580.1L553.1 570.4L542.9 556.4L536.4 548.9L527.4 540.1L518.4 533.4L510.4 529.1L504.1 526.9L497.9 525.6L490.6 525.4L490.4 525.6L488.1 525.6L487.9 525.9L483.9 526.4L478.1 528.1L470.6 531.6L462.6 536.9L456.6 541.9L449.4 549.1L447.1 551.9L443.6 547.6L445.6 540.9L446.1 540.1L447.6 535.1L448.1 534.4L448.9 531.6L449.9 529.6L452.6 521.6L453.4 520.4L454.1 517.9L456.6 512.4L457.6 509.4L462.9 498.1L462.9 497.6L463.6 496.6L463.9 495.6L469.1 485.4L473.6 477.6L478.6 470.1L482.9 464.6L490.1 457.1L493.1 454.6L501.6 448.6L506.4 445.9L511.1 443.6L518.1 441.1L525.1 439.6L530.9 439.4L531.1 439.1Z" fill="#606060" fill-rule="evenodd"/>
<path d="M531.1 439.1L537.4 439.4L537.6 439.6L540.9 439.9L546.4 441.1L550.9 442.6L559.9 446.9L566.6 451.1L576.6 459.1L586.1 468.6L594.4 478.4L602.9 489.9L612.6 504.9L619.6 516.9L623.9 524.9L625.4 530.1L625.6 533.4L625.3 537.1L624.3 540.4L622.7 543.9L619.9 547.9L617.6 550.5L611.4 555.6L605.4 559.4L600.1 562L595.1 564.1L587.6 566.6L580.1 568.6L571.1 570.4L562.6 571.6L554.4 572.4L547.1 561.9L542.9 556.4L536.4 548.9L529.9 542.4L523.4 536.9L518.4 533.4L510.4 529.1L504.1 526.9L497.9 525.6L490.6 525.4L490.4 525.6L488.1 525.6L487.9 525.9L483.9 526.4L478.1 528.1L470.6 531.6L466.1 534.4L462.6 536.9L456.6 541.9L451.9 546.6L449.5 544.4L446.4 540.4L446.1 539.6L452.6 521.6L453.4 520.4L454.1 517.9L456.6 512.4L457.6 509.4L462.9 498.1L462.9 497.6L463.6 496.6L463.9 495.6L469.1 485.4L473.6 477.6L478.6 470.1L484.1 463.1L490.1 457.1L493.1 454.6L501.6 448.6L506.4 445.9L511.1 443.6L518.1 441.1L525.1 439.6L530.9 439.4L531.1 439.1Z" fill="#6b6b6b" fill-rule="evenodd"/>
<path d="M531.1 439.1L537.4 439.4L537.6 439.6L540.9 439.9L546.4 441.1L550.9 442.6L559.9 446.9L566.6 451.1L576.6 459.1L586.1 468.6L593.4 477.1L601.1 487.4L608.9 498.9L616.6 511.6L620.1 517.9L621.1 520.5L621.9 523.6L622.1 527.9L621.6 531.1L619.5 536.6L617.6 539.6L614.6 543.1L609 547.9L604.4 550.9L597 554.6L592.9 556.4L582.9 559.6L573.6 561.7L565.6 563.1L549.1 564.7L542.9 556.4L538.6 551.4L527.4 540.1L523.4 536.9L515.9 531.9L508.6 528.4L504.1 526.9L499.6 525.9L495.6 525.6L495.4 525.4L488.1 525.6L481.9 526.9L475.6 529.1L468.9 532.6L462.6 536.9L457.1 541.6L453.4 538.1L449.8 533.6L448.9 532.2L448.9 531.6L449.9 529.6L450.4 527.6L455.6 514.1L456.6 512.4L457.6 509.4L462.9 498.1L462.9 497.6L463.6 496.6L463.9 495.6L469.1 485.4L473.6 477.6L478.6 470.1L484.1 463.1L490.1 457.1L493.1 454.6L501.6 448.6L506.4 445.9L511.1 443.6L518.1 441.1L525.1 439.6L530.9 439.4L531.1 439.1Z" fill="#757575" fill-rule="evenodd"/>
<path d="M531.1 439.1L539.4 439.6L546.4 441.1L553.4 443.6L562.9 448.6L570.4 453.9L576.6 459.1L586.1 468.6L596.1 480.6L602.9 489.9L612.6 504.9L616.6 511.9L618.1 516.4L618.5 519.9L618.3 522.6L617.7 525.6L616.6 528.4L615.1 531.1L612.9 534.2L607.4 539.4L602.6 542.7L595.6 546.4L590.1 548.7L579.4 552.1L571.4 553.9L562.4 555.4L553.4 556.3L543.1 556.8L536.4 548.9L529.9 542.4L525.9 538.9L518.4 533.4L508.6 528.4L504.1 526.9L497.9 525.6L490.6 525.4L490.4 525.6L486.4 525.9L481.9 526.9L475.6 529.1L468.9 532.6L462.9 536.6L457.7 532.1L453.1 526.7L451.7 524.4L451.9 523.6L457.6 509.4L462.9 498.1L462.9 497.6L463.6 496.6L463.9 495.6L469.1 485.4L473.6 477.6L478.6 470.1L484.1 463.1L490.1 457.1L493.1 454.6L501.6 448.6L506.4 445.9L511.1 443.6L518.1 441.1L525.1 439.6L530.9 439.4L531.1 439.1Z" fill="#7f7f7f" fill-rule="evenodd"/>
<path d="M531.1 439.1L539.4 439.6L546.4 441.1L553.4 443.6L562.9 448.6L570.4 453.9L576.6 459.1L586.1 468.6L594.4 478.4L601.1 487.4L608.9 498.9L612.6 505.1L614.4 510.4L614.7 513.1L614.6 515.9L613.9 519.1L612.6 522.1L610.8 525.1L609 527.4L604.9 531.3L599.9 534.9L594.6 537.8L585.6 541.6L576.4 544.4L565.1 546.7L557.6 547.7L547.1 548.5L536.4 548.6L529.9 542.4L523.4 536.9L515.9 531.9L508.6 528.4L504.1 526.9L499.6 525.9L495.6 525.6L495.4 525.4L490.6 525.4L490.4 525.6L486.4 525.9L481.9 526.9L475.6 529.1L470.1 532.1L463.1 526.9L458.1 521.7L455.6 518L454.9 516.1L459.1 505.9L466.6 490.1L472.1 480.1L478.6 470.1L484.1 463.1L490.1 457.1L493.1 454.6L501.6 448.6L506.4 445.9L511.1 443.6L518.1 441.1L525.1 439.6L530.9 439.4L531.1 439.1Z" fill="#898989" fill-rule="evenodd"/>
<path d="M531.1 439.1L539.4 439.6L546.4 441.1L553.4 443.6L561.6 447.9L569.4 453.1L576.6 459.1L586.1 468.6L591.1 474.4L599.1 484.6L607.9 497.4L609.4 500.4L610.4 503.6L610.7 505.9L610.6 508.9L610.1 511.6L609.2 514.1L607.1 517.9L606 519.4L601.4 523.9L596.1 527.6L588.9 531.4L581.1 534.3L570.9 537.1L560.1 539L549.4 540L541.9 540.3L529.1 540.1L526.9 539.9L523.4 536.9L515.9 531.9L508.6 528.4L502.1 526.4L498.1 525.9L497.9 525.6L495.6 525.6L495.4 525.4L490.6 525.4L490.4 525.6L488.1 525.6L487.9 525.9L483.9 526.4L479 527.9L474.9 525.6L469.6 522.1L465.1 518.4L462.3 515.4L459.4 511.1L458.2 508.4L458.4 507.6L465.1 493.1L472.1 480.1L478.6 470.1L484.1 463.1L490.1 457.1L493.1 454.6L501.6 448.6L506.4 445.9L511.1 443.6L518.1 441.1L525.1 439.6L530.9 439.4L531.1 439.1Z" fill="#939393" fill-rule="evenodd"/>
<path d="M531.1 439.1L539.4 439.6L546.4 441.1L553.4 443.6L559.9 446.9L566.6 451.1L572.9 455.9L576.6 459.1L588.1 470.9L596.1 480.6L602.9 489.9L605.1 493.9L606.2 497.4L606.5 501.4L606.2 503.9L605.4 506.6L602.8 511.1L598.4 515.9L592.8 519.9L586.2 523.4L577.6 526.6L567.9 529.1L559.4 530.6L549.1 531.7L537.6 532L528.1 531.7L511.1 529.6L508.6 528.4L504.1 526.9L499.6 525.9L495.6 525.6L491.1 524.2L483.9 521.1L478.6 518.4L471.6 513.6L466.8 509.1L463.9 505.1L462.2 501.6L461.9 499.9L469.1 485.4L473.6 477.6L478.6 470.1L484.1 463.1L490.1 457.1L493.1 454.6L501.6 448.6L506.4 445.9L511.1 443.6L518.1 441.1L525.1 439.6L530.9 439.4L531.1 439.1Z" fill="#9e9e9e" fill-rule="evenodd"/>
<path d="M531.1 439.1L539.4 439.6L546.4 441.1L553.4 443.6L559.9 446.9L566.6 451.1L572.9 455.9L576.6 459.1L586.1 468.6L593.4 477.1L598.4 483.6L600.3 486.9L601.7 490.6L602.1 494.1L601.3 498.6L599.5 502.6L595.6 507.3L591.5 510.6L585.6 514.1L579.4 516.9L569.9 519.9L560.6 521.8L552.4 522.9L542.6 523.5L532.9 523.4L522.4 522.7L514.4 521.5L506.1 519.8L497.4 517.4L487.9 513.7L481.9 510.6L476.9 507.4L471.4 502.5L468.6 499L467.4 496.8L466.4 494.4L465.9 491.6L469.1 485.4L475.4 474.9L478.6 470.1L484.1 463.1L490.1 457.1L493.1 454.6L501.6 448.6L506.4 445.9L511.1 443.6L518.1 441.1L525.1 439.6L530.9 439.4L531.1 439.1Z" fill="#a8a8a8" fill-rule="evenodd"/>
<path d="M531.1 439.1L539.4 439.6L546.4 441.1L553.4 443.6L559.9 446.9L566.6 451.1L572.9 455.9L576.6 459.1L586.1 468.6L594.1 478.2L595.9 481.4L597.1 485.1L597.2 489.1L596.3 492.6L594.4 496.1L591.4 499.7L586.8 503.4L582.9 505.7L575.6 508.9L569.1 511L559.7 513.1L551.9 514.2L544.1 514.8L535.4 514.8L526.9 514.4L519.4 513.6L512.6 512.5L501.4 509.7L492.6 506.5L485.9 503.1L481.6 500.4L476.7 496.4L473.4 492.4L472 489.9L470.8 486.6L470.4 483.4L476.9 472.6L484.1 463.1L490.1 457.1L493.1 454.6L501.6 448.6L506.4 445.9L511.1 443.6L518.1 441.1L525.1 439.6L530.9 439.4L531.1 439.1Z" fill="#b2b2b2" fill-rule="evenodd"/>
<path d="M531.1 439.1L537.4 439.4L537.6 439.6L539.4 439.6L543.4 440.4L546.4 441.1L553.4 443.6L559.9 446.9L565.1 450.1L570.4 453.9L576.6 459.1L588.1 470.9L589.9 473.4L591.1 475.9L592 479.1L591.9 483.1L590.4 487.4L588.1 490.6L585 493.6L580.4 496.8L574.9 499.5L566.9 502.4L557.9 504.4L552.9 505.1L545.1 505.9L536.1 506L522.9 505.2L514.4 503.9L505.1 501.6L496.6 498.6L490.4 495.6L485.9 492.8L481.7 489.4L478.3 485.4L476.9 482.9L475.9 479.9L475.6 475.9L475.9 474.1L476.9 472.6L484.1 463.1L490.1 457.1L493.1 454.6L501.6 448.6L506.4 445.9L511.1 443.6L518.1 441.1L525.1 439.6L530.9 439.4L531.1 439.1Z" fill="#bcbcbc" fill-rule="evenodd"/>
<path d="M531.1 439.1L537.4 439.4L537.6 439.6L539.4 439.6L543.4 440.4L546.4 441.1L553.4 443.6L562.9 448.6L568.4 452.4L574.6 457.4L583.1 465.6L585 468.6L585.9 470.9L586.4 474.4L586.1 477.1L584.9 480.2L582.6 483.4L578.6 486.9L574.6 489.4L568.1 492.2L563.4 493.7L556.9 495.3L548.9 496.4L540.9 497L534.4 497L524.4 496.3L518.4 495.4L511.6 494L505.4 492.2L500.4 490.3L494.4 487.4L489.9 484.5L485.5 480.6L482.9 477L481.8 474.4L481.2 471.4L481.5 468.4L483.1 464.4L490.1 457.1L497.1 451.6L501.6 448.6L506.4 445.9L511.1 443.6L518.1 441.1L521.1 440.4L525.1 439.6L530.9 439.4L531.1 439.1Z" fill="#c6c6c6" fill-rule="evenodd"/>
<path d="M531.1 439.1L537.4 439.4L537.6 439.6L540.9 439.9L546.4 441.1L550.9 442.6L561.6 447.9L570.4 453.9L576.4 459.1L578.4 461.9L579.5 464.4L580.1 467.4L579.9 469.6L579.1 472.1L577.5 474.6L574.6 477.6L571.5 479.9L565.6 482.8L560.6 484.5L549.6 486.8L542.6 487.5L535.1 487.6L522.9 486.6L514.9 485.1L509.6 483.7L504 481.6L499.1 479.2L494.1 475.9L491.2 473.1L489.1 470.1L488.3 468.4L487.7 466.1L487.7 463.4L488.1 461.4L489.3 458.9L490.9 456.8L493.1 454.6L501.6 448.6L506.4 445.9L511.1 443.6L518.1 441.1L521.1 440.4L525.1 439.6L530.9 439.4L531.1 439.1Z" fill="#d1d1d1" fill-rule="evenodd"/>
<path d="M531.1 439.1L539.4 439.6L546.4 441.1L553.4 443.6L559.9 446.9L565.9 450.6L568.1 452.4L570 454.4L572.2 458.1L572.7 460.4L572.5 462.6L572.1 464.1L570.7 466.6L569.4 468.2L566.1 470.8L562.4 472.9L557.4 474.9L551.6 476.4L546.6 477.2L541.4 477.6L535.1 477.8L528.4 477.4L520.4 476.2L511.1 473.7L506.1 471.5L502.1 469.1L499.6 467.2L497.3 464.6L495.4 461.1L495 459.1L495.1 457L495.7 455.1L496.6 453.4L498.1 451.5L500.2 449.6L506.4 445.9L513.6 442.6L518.1 441.1L522.4 440.1L526.9 439.6L527.1 439.4L530.9 439.4L531.1 439.1Z" fill="#dbdbdb" fill-rule="evenodd"/>
<path d="M531.1 439.1L537.4 439.4L537.6 439.6L539.4 439.6L543.4 440.4L550.9 442.6L556.8 445.4L560.4 448.1L562.8 451.4L563.4 453.1L563.4 454.9L562.4 457.9L561.4 459.4L559.1 461.4L555.9 463.2L552.6 464.6L549.1 465.6L543.6 466.6L533.6 467L524.6 466.1L516.4 463.9L512.4 462.1L509.6 460.5L507.9 459.1L505.6 456.6L504.7 454.9L504.3 453.4L504.6 450.1L506.1 447.6L508.8 445.1L512.4 443.1L518.1 441.1L525.1 439.6L530.9 439.4L531.1 439.1Z" fill="#e5e5e5" fill-rule="evenodd"/>
<path d="M528.9 439.9L532.6 439.6L536.8 439.9L540.9 440.6L544.4 441.9L546.6 443.1L548.8 445.1L549.5 446.9L549.3 448.9L548.6 449.9L547.4 451L544.5 452.6L540.9 453.7L536.4 454.2L532.1 454.1L527.6 453.4L523.1 451.9L520.5 450.4L518.8 448.6L518.1 446.9L518.3 445.4L519.1 443.9L520.9 442.4L522.8 441.4L525.6 440.5L528.9 439.9Z" fill="#ececec" fill-rule="evenodd"/>
<path d="M650.7 601.1L652.1 595.7L652.4 590.4L651.5 585.1L649.5 579.6M647.3 596.3L649.2 590.4L649.7 584.5L648.8 578.4L646.4 572.4M643.5 591.8L645 588.5L646.1 585.3L646.8 582L647 578.6L646.7 575.3L646 571.9L644.8 568.6L643.2 565.2M639.2 587.4L641.3 583.8L642.8 580.2L643.8 576.6L644.2 572.9L643.9 569.1L643.1 565.4L641.8 561.7L639.8 558M575.2 609.7L582.2 608.5M634.3 583.4L637.1 579.5L639.3 575.5L640.6 571.4L641.2 567.2L641.1 563.1L640.2 558.9L638.6 554.7L636.3 550.7M571.6 602.4L580.2 600.9L588.4 599.1M628.1 579.9L632 575.8L635 571.4L637 567L638.1 562.4L638.3 557.8L637.5 553.1L635.7 548.4L633 543.9M632.8 543.7L632.8 543.6M567.7 595L583.4 592.3L597.6 588.3M618.9 578L624.6 573.5L629.1 568.8L632.5 563.7L634.5 558.6L635.3 553.3L634.7 548L632.9 542.7L629.8 537.5M629.7 537.2L629.6 537.1M563.6 587.6L572.9 586.3L581.7 584.6L590 582.4L597.7 579.9L604.9 577L611.2 573.8L617 570.2L621.7 566.4L625.6 562.6L628.6 558.3L630.8 553.9L631.9 549.5L632.1 545L631.3 540.4L629.5 535.9L626.8 531.4M626.7 531.2L626.6 531M441 555.1L442.6 557.1M559.2 580.1L568.3 579L577.3 577.4L585.6 575.4L593.5 573L600.7 570.3L607.5 567L613.2 563.6L618.2 559.9L622.2 555.9L625.3 551.7L627.5 547.3L628.7 542.8L628.8 538.3L628 533.8L626.1 529.2L623.3 524.8M622.9 524.2L622.8 524.1M443.5 547.5L447 551.8M554.4 572.5L563.7 571.5L572.6 570.2L581.4 568.3L589.5 566L596.9 563.3L603.7 560.2L609.6 556.8L614.7 553.1L618.8 549.1L622 544.9L624.2 540.5L625.3 536L625.4 531.6L624.5 527L622.5 522.5L619.5 518M446.1 539.8L448.6 543.2L451.8 546.6M549.1 564.7L558.6 564L567.7 562.8L576.2 561.2L584.6 559.1L592.3 556.5L599.1 553.6L605.3 550.2L610.5 546.7L614.9 542.7L618.2 538.6L620.5 534.4L621.8 529.9L622 525.5L621.2 521L619.2 516.5L616.3 512.1M616.1 511.9L615.8 511.4M448.9 532.1L452.4 536.9L457.1 541.5M543.2 556.8L552.8 556.4L562.1 555.4L571.2 554L579.6 552L587.4 549.6L594.5 546.8L600.8 543.6L606.4 540L611 536.1L614.4 532L616.8 527.8L618.1 523.3L618.3 518.9L617.4 514.3L615.4 509.8L612.3 505.4M611.9 505L611.8 504.9M451.8 524.3L453.8 527.5L456.3 530.6L459.5 533.7L463 536.6M536.1 548.6L545.8 548.6L555.3 547.9L564.8 546.7L573.5 545L581.5 542.9L589.1 540.3L595.8 537.2L601.6 533.7L606.4 530L610.1 525.9L612.7 521.7L614.2 517.3L614.6 512.8L613.7 508.2L611.7 503.7L608.6 499.4M608.4 499.1L608.1 498.8M454.9 516.4L457.3 520.5L460.6 524.5L464.8 528.3L470.1 532M527.2 540L537.1 540.4L547.1 540.2L556.8 539.4L566.1 538.1L574.9 536.2L582.9 533.7L590.4 530.7L596.5 527.3L601.8 523.5L605.9 519.4L608.7 515L610.3 510.5L610.6 505.9L609.5 501.2L607.2 496.6L603.6 492.1M458.2 508.3L461 513.6L465.5 518.7L471.6 523.5L479 527.9M511.2 529.5L521.6 531.1L532 531.9L542.7 532L552.9 531.4L563 530.1L572.1 528.2L580.7 525.5L588.2 522.4L594.7 518.6L599.8 514.5L603.5 510L605.7 505.2L606.4 500.4L605.6 495.5L603.2 490.6L599.3 485.9M461.9 500.2L463.3 503.8L465.6 507.4L468.7 511L472.6 514.4L477.2 517.5L482.6 520.5L488.6 523.1L495 525.5M465.9 491.8L466.8 495.3L468.6 498.9L471.2 502.2L474.6 505.5L478.6 508.6L483.4 511.5L488.8 514.1L494.7 516.5L501 518.5L508 520.3L515.2 521.7L522.6 522.7L537.5 523.6L545 523.4L552.5 522.9L559.6 522L566.3 520.7L572.8 519.1L578.8 517.1L584.3 514.8L589 512.2L593.1 509.4L596.4 506.4L599.1 503.1L600.8 499.8L601.8 496.3L601.9 492.8L601.1 489.2L599.6 485.8L597.2 482.4L594.1 479.1M470.5 483.2L470.9 486.6L472.1 489.9L474.1 493.2L476.7 496.3L480.2 499.3L484.4 502.2L489.2 504.9L494.7 507.3L500.8 509.5L507.2 511.3L520.8 513.8L534.9 514.9L549.3 514.5L556.2 513.7L563 512.5L569.2 511L574.8 509.2L580.2 507L584.8 504.6L588.8 501.9L591.9 499.1L594.5 496L596.2 492.8L597 489.5L597.1 486.1L596.3 482.8L594.8 479.5L592.4 476.2L589.3 473.1M476 474.1L475.7 477.4L476.2 480.6L477.5 483.8L479.6 487L482.5 490.1L486.1 492.9L490.4 495.6L495.3 498L500.8 500.2L506.9 502.1L513.1 503.6L519.9 504.8L533.5 506.1L547.2 505.8L553.8 505.1L560.3 504L566 502.6L571.7 500.8L576.8 498.7L581.1 496.4L584.8 493.8L587.8 490.9L590 487.9L591.4 484.8L592 481.5L591.7 478.3L590.6 475.1L588.7 471.9L585.9 468.8L582.5 465.9M483.5 464.1L482 467.1L481.4 470.1L481.6 473.2L482.6 476.3L484.5 479.4L487.2 482.3L490.6 485L494.6 487.5L499.4 489.9L504.6 491.9L510.4 493.7L516.4 495.1L529.2 496.8L542.6 497L549 496.5L555.4 495.6L561.3 494.3L566.6 492.8L571.5 490.9L575.8 488.7L579.4 486.2L582.4 483.5L584.5 480.7L585.8 477.7L586.3 474.7L586 471.6L584.8 468.5L582.8 465.5L580 462.6L576.5 459.9M513.2 484.7L520.5 486.3L528.2 487.3L536 487.7L543.9 487.5L551.5 486.6L558.6 485.1L564.7 483.2L570.1 480.7L574.4 477.8L577.5 474.6L579.4 471L580 467.4L579.1 463.7L577 460.1L573.6 456.7L569.1 453.6M568.8 453.4L568.4 453.2M499.7 450.7L499.3 450.9M498.9 451.1L495.6 453L493 455L490.8 457.1L489.2 459.3L488.2 461.7L487.7 464.1L487.9 466.5L488.6 468.9L490 471.4L491.9 473.7L494.3 476L497.2 478L504.3 481.7L513.2 484.7M514.7 474.8L521.2 476.4L528.2 477.4L535.3 477.9L542.5 477.6L549.4 476.8L555.7 475.4L561.3 473.4L565.9 471L569.3 468.2L571.6 465.1L572.5 461.8L572.1 458.4L570.4 455.1L567.4 451.9L563.1 449L558.1 446.6M508.6 445.4L502.5 448.3L500 450L497.9 451.9L496.5 453.9L495.5 455.9L495.1 458.1L495.3 460.3L496 462.4L497.3 464.6L499.1 466.6L501.3 468.5L507.2 472L514.7 474.8M519 464.8L525 466.2L531.2 467L537.4 467.2L543.4 466.7L549.2 465.6L554.3 464L558.3 461.9L561.3 459.4L563 456.6L563.3 453.7L562.3 450.7L560 447.9L556.4 445.3L551.9 443.2L546.6 441.5L540.6 440.3M540 440.2L539 440.1M537.7 440L537 439.9M534.3 439.7L533.3 439.7M531.2 439.7L529.5 439.7M527.4 439.8L519.2 441.1L512.4 443.3L509.6 444.8L507.4 446.5L505.7 448.3L504.7 450.3L504.3 452.4L504.6 454.4L505.6 456.5L507.2 458.4L509.4 460.3L512.1 462L519 464.8M526.6 453.2L530.8 454L534.9 454.3L539 454L542.8 453.3L546 452L548.2 450.3L549.3 448.4L549.3 446.5L548.3 444.7L546.3 443.1L543.3 441.6L539.9 440.6L536.2 439.9L532.1 439.8L528.4 440.1L524.8 440.8L522.1 441.9L519.8 443.4L518.5 445.1L518.2 447L519 448.9L520.8 450.6L523.3 452L526.6 453.2" fill="none" stroke="#242424" stroke-width="1"/>
<line x1="438.8" y1="607.2" x2="578.1" y2="642.3" stroke="#333" stroke-width="0.8"/>
<line x1="578.1" y1="642.3" x2="679.5" y2="593.4" stroke="#333" stroke-width="0.8"/>
<line x1="438.8" y1="607.2" x2="438.8" y2="446.9" stroke="#6a6a6a" stroke-width="1"/>
<path d="M438.8 607.2h-4.5M438.8 575.1h-4.5M438.8 543.1h-4.5M438.8 511h-4.5M438.8 479h-4.5M438.8 446.9h-4.5M438.8 607.2v4.5M450.4 610.1v4.5M462 613.1v4.5M473.6 616v4.5M485.2 618.9v4.5M496.8 621.8v4.5M508.5 624.8v4.5M520.1 627.7v4.5M531.7 630.6v4.5M543.3 633.5v4.5M554.9 636.4v4.5M566.5 639.4v4.5M578.1 642.3v4.5M578.1 642.3h4M586.6 638.2h4M595 634.1h4M603.5 630.1h4M611.9 626h4M620.4 621.9h4M628.8 617.8h4M637.2 613.8h4M645.7 609.7h4M654.1 605.6h4M662.6 601.5h4M671 597.5h4M679.5 593.4h4" stroke="#222" stroke-width="1.1" fill="none"/>
<text x="432.3" y="611.7" font-size="10.2" text-anchor="end">0</text>
<text x="432.3" y="579.6" font-size="10.2" text-anchor="end">20</text>
<text x="432.3" y="547.6" font-size="10.2" text-anchor="end">40</text>
<text x="432.3" y="515.5" font-size="10.2" text-anchor="end">60</text>
<text x="432.3" y="483.4" font-size="10.2" text-anchor="end">80</text>
<text x="432.3" y="451.4" font-size="10.2" text-anchor="end">100</text>
<text x="435.6" y="625.3" font-size="10.2" text-anchor="middle">1.43</text>
<text x="463.2" y="631" font-size="10.2" text-anchor="middle">1.14</text>
<text x="498.3" y="641.1" font-size="10.2" text-anchor="middle">0.85</text>
<text x="533.5" y="650.4" font-size="10.2" text-anchor="middle">0.56</text>
<text x="568.6" y="658.7" font-size="10.2" text-anchor="middle">0.27</text>
<text x="579.1" y="656.3" font-size="10.2" text-anchor="start">0.83</text>
<text x="604.5" y="644" font-size="10.2" text-anchor="start">0.64</text>
<text x="629.8" y="631.8" font-size="10.2" text-anchor="start">0.45</text>
<text x="655.1" y="619.6" font-size="10.2" text-anchor="start">0.26</text>
<text x="680.5" y="607.4" font-size="10.2" text-anchor="start">0.07</text>
<text x="486.3" y="661" font-size="10.7" text-anchor="middle">EtOH (V)</text>
<text x="663.9" y="651.7" font-size="10.7" text-anchor="middle">NaOH (M)</text>
<text transform="translate(405.2 530.3) rotate(-90)" font-size="11.5" text-anchor="middle">I<tspan font-size="7.5" dy="4.3" dx="0.6">p</tspan><tspan dy="-4.3"> (%)</tspan></text>
<path d="M69.6 799.2H324.4V1010H69.6Z" fill="none" stroke="#2e2e2e" stroke-width="1.25"/>
<line x1="65.1" y1="1010" x2="69.6" y2="1010" stroke="#2e2e2e" stroke-width="1.1"/>
<text x="69.6" y="1029.2" font-size="12.3" text-anchor="middle">1</text>
<text x="106" y="1029.2" font-size="12.3" text-anchor="middle">2</text>
<text x="142.4" y="1029.2" font-size="12.3" text-anchor="middle">3</text>
<text x="178.8" y="1029.2" font-size="12.3" text-anchor="middle">4</text>
<text x="215.2" y="1029.2" font-size="12.3" text-anchor="middle">5</text>
<text x="251.6" y="1029.2" font-size="12.3" text-anchor="middle">6</text>
<text x="288" y="1029.2" font-size="12.3" text-anchor="middle">7</text>
<text x="324.4" y="1029.2" font-size="12.3" text-anchor="middle">8</text>
<text x="61.8" y="1014.4" font-size="12.3" text-anchor="end">0</text>
<text x="61.8" y="961.7" font-size="12.3" text-anchor="end">5</text>
<text x="61.8" y="909" font-size="12.3" text-anchor="end">10</text>
<text x="61.8" y="856.3" font-size="12.3" text-anchor="end">15</text>
<text x="61.8" y="803.6" font-size="12.3" text-anchor="end">20</text>
<path d="M69.6 1010v4.3M106 1010v4.3M142.4 1010v4.3M178.8 1010v4.3M215.2 1010v4.3M251.6 1010v4.3M288 1010v4.3M324.4 1010v4.3M87.8 1010v2.4M124.2 1010v2.4M160.6 1010v2.4M197 1010v2.4M233.4 1010v2.4M269.8 1010v2.4M306.2 1010v2.4M69.6 1010h-4.3M69.6 957.3h-4.3M69.6 904.6h-4.3M69.6 851.9h-4.3M69.6 799.2h-4.3M69.6 983.6h-2.2M69.6 931h-2.2M69.6 878.2h-2.2M69.6 825.5h-2.2" stroke="#2e2e2e" stroke-width="1.1" fill="none"/>
<path d="M95.8 981.6L304.3 887.3" stroke="#222" stroke-width="1.5" stroke-dasharray="1.5 2.6" fill="none"/>
<path d="M69.6 982.9L306.2 806.3" stroke="#111" stroke-width="2" fill="none" stroke-linejoin="round"/>
<path d="M69.6 994.1L75.1 991.6L82.7 989.3L94 986.6L111.1 981.2L142.4 971.3L215.2 952.3L306.2 928.1" stroke="#111" stroke-width="2" fill="none" stroke-linejoin="round"/>
<circle cx="69.6" cy="982.9" r="3.9" fill="#111"/>
<circle cx="75.1" cy="978.6" r="3.9" fill="#111"/>
<circle cx="82.7" cy="973" r="3.9" fill="#111"/>
<circle cx="94" cy="964.9" r="3.9" fill="#111"/>
<circle cx="111.1" cy="951.5" r="3.9" fill="#111"/>
<circle cx="142.4" cy="928.3" r="3.9" fill="#111"/>
<circle cx="215.2" cy="874.6" r="3.9" fill="#111"/>
<circle cx="306.2" cy="806.3" r="3.9" fill="#111"/>
<circle cx="69.6" cy="994.1" r="3.9" fill="#fff" stroke="#111" stroke-width="1.2"/>
<circle cx="75.1" cy="991.6" r="3.9" fill="#fff" stroke="#111" stroke-width="1.2"/>
<circle cx="82.7" cy="989.3" r="3.9" fill="#fff" stroke="#111" stroke-width="1.2"/>
<circle cx="94" cy="986.6" r="3.9" fill="#fff" stroke="#111" stroke-width="1.2"/>
<circle cx="111.1" cy="981.2" r="3.9" fill="#fff" stroke="#111" stroke-width="1.2"/>
<circle cx="142.4" cy="971.3" r="3.9" fill="#fff" stroke="#111" stroke-width="1.2"/>
<circle cx="215.2" cy="952.3" r="3.9" fill="#fff" stroke="#111" stroke-width="1.2"/>
<circle cx="306.2" cy="928.1" r="3.9" fill="#fff" stroke="#111" stroke-width="1.2"/>
<text transform="translate(34.7 911.6) rotate(-90)" font-size="13" text-anchor="middle">R prot-CS (g/L)</text>
<text x="196.1" y="1056.5" font-size="12.5" text-anchor="middle">fc</text>
<path d="M444.4 799.4H699.9V1013H444.4Z" fill="none" stroke="#2e2e2e" stroke-width="1.25"/>
<text x="444.4" y="1033" font-size="12.3" text-anchor="middle">0</text>
<text x="480.9" y="1033" font-size="12.3" text-anchor="middle">1</text>
<text x="517.4" y="1033" font-size="12.3" text-anchor="middle">2</text>
<text x="553.9" y="1033" font-size="12.3" text-anchor="middle">3</text>
<text x="590.4" y="1033" font-size="12.3" text-anchor="middle">4</text>
<text x="626.9" y="1033" font-size="12.3" text-anchor="middle">5</text>
<text x="663.4" y="1033" font-size="12.3" text-anchor="middle">6</text>
<text x="699.9" y="1033" font-size="12.3" text-anchor="middle">7</text>
<text x="436.8" y="1017.4" font-size="12.3" text-anchor="end">0</text>
<text x="436.8" y="964" font-size="12.3" text-anchor="end">30</text>
<text x="436.8" y="910.6" font-size="12.3" text-anchor="end">60</text>
<text x="436.8" y="857.2" font-size="12.3" text-anchor="end">90</text>
<text x="436.8" y="803.8" font-size="12.3" text-anchor="end">120</text>
<path d="M444.4 1013v4.3M480.9 1013v4.3M517.4 1013v4.3M553.9 1013v4.3M590.4 1013v4.3M626.9 1013v4.3M663.4 1013v4.3M699.9 1013v4.3M462.6 1013v2.4M499.1 1013v2.4M535.6 1013v2.4M572.1 1013v2.4M608.6 1013v2.4M645.1 1013v2.4M681.6 1013v2.4M444.4 1013h-4.3M444.4 959.6h-4.3M444.4 906.2h-4.3M444.4 852.8h-4.3M444.4 799.4h-4.3M444.4 986.3h-2.2M444.4 932.9h-2.2M444.4 879.5h-2.2M444.4 826.1h-2.2" stroke="#2e2e2e" stroke-width="1.1" fill="none"/>
<path d="M444.4 835L681.6 841.2" stroke="#111" stroke-width="2.2" fill="none"/>
<path d="M444.4 839.3L480.9 893.9L484.2 897L488.7 901.2L494 906.1L499.8 911.5L505.9 917.1L511.9 922.3L517.4 927L522.6 931.2L527.8 935.3L533 939.3L538.3 943.1L543.5 946.8L548.7 950.3L553.9 953.7L559.1 957L564.3 960.2L569.5 963.2L574.8 966.1L580 968.8L585.2 971.5L590.4 974L595.6 976.4L600.8 978.7L606 980.8L611.3 982.8L616.5 984.7L621.7 986.6L626.9 988.4L632.3 990.2L637.9 992L643.5 993.7L649 995.4L654.3 996.9L659.1 998.3L663.4 999.5L667.1 1000.5L670.5 1001.4L673.5 1002.1L676.1 1002.7L678.3 1003.2L680.2 1003.6L681.6 1003.9" stroke="#111" stroke-width="2.4" fill="none" stroke-linejoin="round"/>
<path d="M480.9 834.7V836M475.1 834.7h11.5M475.1 836h11.5M517.4 831.8V841.4M511.6 831.8h11.5M511.6 841.4h11.5M553.9 834.3V840.3M548.1 834.3h11.5M548.1 840.3h11.5M590.4 830.7V845.3M584.6 830.7h11.5M584.6 845.3h11.5M626.9 829.8V848.7M621.1 829.8h11.5M621.1 848.7h11.5M663.4 833.8V845.5M657.6 833.8h11.5M657.6 845.5h11.5M681.6 833V847.3M675.9 833h11.5M675.9 847.3h11.5M480.9 896.6V914.7M475.1 896.6h11.5M475.1 914.7h11.5M517.4 919.2V940.6M511.6 919.2h11.5M511.6 940.6h11.5M553.9 945.5V957.3M548.1 945.5h11.5M548.1 957.3h11.5M590.4 962.6V975.8M584.6 962.6h11.5M584.6 975.8h11.5M626.9 976.2V996.8M621.1 976.2h11.5M621.1 996.8h11.5M663.4 995.4V1008.9M657.6 995.4h11.5M657.6 1008.9h11.5M681.6 1001.8V1015M675.9 1001.8h11.5M675.9 1015h11.5" stroke="#111" stroke-width="1.5" fill="none"/>
<circle cx="480.9" cy="835.4" r="3.9" fill="#111"/>
<circle cx="517.4" cy="836.6" r="3.9" fill="#111"/>
<circle cx="553.9" cy="837.3" r="3.9" fill="#111"/>
<circle cx="590.4" cy="838" r="3.9" fill="#111"/>
<circle cx="626.9" cy="839.3" r="3.9" fill="#111"/>
<circle cx="663.4" cy="839.6" r="3.9" fill="#111"/>
<circle cx="681.6" cy="840.2" r="3.9" fill="#111"/>
<circle cx="444.4" cy="835.4" r="4.1" fill="#fff" stroke="#111" stroke-width="1.2"/>
<circle cx="480.9" cy="905.7" r="4.1" fill="#fff" stroke="#111" stroke-width="1.2"/>
<circle cx="517.4" cy="929.9" r="4.1" fill="#fff" stroke="#111" stroke-width="1.2"/>
<circle cx="553.9" cy="951.4" r="4.1" fill="#fff" stroke="#111" stroke-width="1.2"/>
<circle cx="590.4" cy="969.2" r="4.1" fill="#fff" stroke="#111" stroke-width="1.2"/>
<circle cx="626.9" cy="986.5" r="4.1" fill="#fff" stroke="#111" stroke-width="1.2"/>
<circle cx="663.4" cy="1002.1" r="4.1" fill="#fff" stroke="#111" stroke-width="1.2"/>
<circle cx="681.6" cy="1008.4" r="4.1" fill="#fff" stroke="#111" stroke-width="1.2"/>
<text transform="translate(408.6 903.9) rotate(-90)" font-size="12.6" text-anchor="middle">R (%)</text>
<text x="571.8" y="1059.7" font-size="12.5" text-anchor="middle">D</text>
<text class="cap" x="175.4" y="332.2" font-size="20.5" text-anchor="middle" textLength="23.1" lengthAdjust="spacingAndGlyphs" font-family="&quot;Liberation Serif&quot;, &quot;Times New Roman&quot;, serif">(a)</text>
<text class="cap" x="550.8" y="332.2" font-size="20.5" text-anchor="middle" textLength="25.5" lengthAdjust="spacingAndGlyphs" font-family="&quot;Liberation Serif&quot;, &quot;Times New Roman&quot;, serif">(b)</text>
<text class="cap" x="175.8" y="724.7" font-size="20.5" text-anchor="middle" textLength="22.2" lengthAdjust="spacingAndGlyphs" font-family="&quot;Liberation Serif&quot;, &quot;Times New Roman&quot;, serif">(c)</text>
<text class="cap" x="550.5" y="716.8" font-size="20.5" text-anchor="middle" textLength="25.9" lengthAdjust="spacingAndGlyphs" font-family="&quot;Liberation Serif&quot;, &quot;Times New Roman&quot;, serif">(d)</text>
<text class="cap" x="175.5" y="1109.7" font-size="20.5" text-anchor="middle" textLength="23.4" lengthAdjust="spacingAndGlyphs" font-family="&quot;Liberation Serif&quot;, &quot;Times New Roman&quot;, serif">(e)</text>
<text class="cap" x="550.5" y="1111.8" font-size="20.5" text-anchor="middle" textLength="20.9" lengthAdjust="spacingAndGlyphs" font-family="&quot;Liberation Serif&quot;, &quot;Times New Roman&quot;, serif">(f)</text>
<text class="cap" x="282.8" y="370.1" font-size="17.5" font-weight="bold" textLength="154" lengthAdjust="spacingAndGlyphs" font-family="&quot;Liberation Serif&quot;, &quot;Times New Roman&quot;, serif">Chemical Treatment</text>
<text class="cap" x="287.9" y="761.5" font-size="17.5" font-weight="bold" textLength="143.6" lengthAdjust="spacingAndGlyphs" font-family="&quot;Liberation Serif&quot;, &quot;Times New Roman&quot;, serif">UF-DF Purification</text>
</svg>
</body></html>
